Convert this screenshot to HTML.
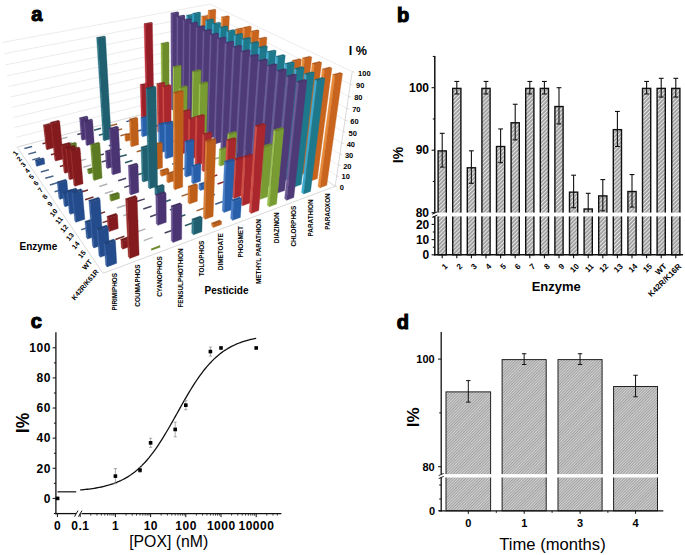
<!DOCTYPE html>
<html><head><meta charset="utf-8"><style>
html,body{margin:0;padding:0;background:#fff;}
body{width:685px;height:555px;overflow:hidden;position:relative;}
svg{position:absolute;left:0;top:0;font-family:"Liberation Sans",sans-serif;}
</style></head><body>
<svg width="685" height="555" viewBox="0 0 685 555">
<polygon points="17.12,147.04 207.27,97.33 209.88,4.17 2.43,42.45" fill="#fff"/>
<polygon points="207.27,97.33 335.19,186.27 352.26,71.52 209.88,4.17" fill="#fff"/>
<polyline points="15.77,137.39 207.51,88.64 336.75,175.8" fill="none" stroke="#e4e4e4" stroke-width="0.7"/>
<polyline points="14.39,127.57 207.76,79.81 338.34,165.12" fill="none" stroke="#e4e4e4" stroke-width="0.7"/>
<polyline points="12.99,117.59 208.01,70.86 339.96,154.23" fill="none" stroke="#e4e4e4" stroke-width="0.7"/>
<polyline points="11.56,107.42 208.27,61.77 341.61,143.12" fill="none" stroke="#e4e4e4" stroke-width="0.7"/>
<polyline points="10.1,97.08 208.53,52.53 343.3,131.79" fill="none" stroke="#e4e4e4" stroke-width="0.7"/>
<polyline points="8.62,86.55 208.79,43.16 345.02,120.23" fill="none" stroke="#e4e4e4" stroke-width="0.7"/>
<polyline points="7.12,75.82 209.06,33.64 346.77,108.43" fill="none" stroke="#e4e4e4" stroke-width="0.7"/>
<polyline points="5.58,64.9 209.33,23.97 348.57,96.38" fill="none" stroke="#e4e4e4" stroke-width="0.7"/>
<polyline points="4.02,53.78 209.6,14.15 350.4,84.08" fill="none" stroke="#e4e4e4" stroke-width="0.7"/>
<polyline points="2.43,42.45 209.88,4.17 352.26,71.52" fill="none" stroke="#e4e4e4" stroke-width="0.7"/>
<polygon points="17.12,147.04 207.27,97.33 335.19,186.27 103.01,273.32" fill="#fff" stroke="#cfcfcf" stroke-width="0.8"/>
<line x1="335.19" y1="186.27" x2="352.26" y2="71.52" stroke="#cfcfcf" stroke-width="0.8"/>
<polygon points="199.71,101.49 200.98,102.41 202.92,17.1 201.55,16.4" fill="#e88a3a" stroke="#e88a3a" stroke-width="0.35"/>
<polygon points="200.98,102.41 206.82,100.86 209.18,15.89 202.92,17.1" fill="#c8641e" stroke="#c8641e" stroke-width="0.35"/>
<polygon points="201.55,16.4 207.8,15.19 209.18,15.89 202.92,17.1" fill="#b0581a" stroke="#b0581a" stroke-width="0.35"/>
<polygon points="185.59,105.21 186.83,106.15 187.79,15.97 186.45,15.26" fill="#3caad2" stroke="#3caad2" stroke-width="0.35"/>
<polygon points="186.83,106.15 192.81,104.56 194.23,14.74 187.79,15.97" fill="#1e788c" stroke="#1e788c" stroke-width="0.35"/>
<polygon points="186.45,15.26 192.87,14.04 194.23,14.74 187.79,15.97" fill="#1a6a7b" stroke="#1a6a7b" stroke-width="0.35"/>
<polygon points="205.55,105.69 206.85,106.62 209.52,11.11 208.1,10.41" fill="#e88a3a" stroke="#e88a3a" stroke-width="0.35"/>
<polygon points="206.85,106.62 212.75,105.04 215.89,9.9 209.52,11.11" fill="#c8641e" stroke="#c8641e" stroke-width="0.35"/>
<polygon points="208.1,10.41 214.45,9.21 215.89,9.9 209.52,11.11" fill="#b0581a" stroke="#b0581a" stroke-width="0.35"/>
<polygon points="171.13,109.02 172.34,109.97 172.17,13.76 170.85,13.05" fill="#6e5a96" stroke="#6e5a96" stroke-width="0.35"/>
<polygon points="172.34,109.97 178.47,108.35 178.8,12.52 172.17,13.76" fill="#4f3a78" stroke="#4f3a78" stroke-width="0.35"/>
<polygon points="170.85,13.05 177.47,11.82 178.8,12.52 172.17,13.76" fill="#46336a" stroke="#46336a" stroke-width="0.35"/>
<polygon points="191.29,109.5 192.57,110.47 194.08,14.05 192.69,13.33" fill="#3caad2" stroke="#3caad2" stroke-width="0.35"/>
<polygon points="192.57,110.47 198.61,108.84 200.61,12.8 194.08,14.05" fill="#1e788c" stroke="#1e788c" stroke-width="0.35"/>
<polygon points="192.69,13.33 199.21,12.1 200.61,12.8 194.08,14.05" fill="#1a6a7b" stroke="#1a6a7b" stroke-width="0.35"/>
<polygon points="211.55,110 212.89,110.96 215.42,34.93 213.98,34.16" fill="#e88a3a" stroke="#e88a3a" stroke-width="0.35"/>
<polygon points="212.89,110.96 218.85,109.33 221.75,33.6 215.42,34.93" fill="#c8641e" stroke="#c8641e" stroke-width="0.35"/>
<polygon points="213.98,34.16 220.3,32.83 221.75,33.6 215.42,34.93" fill="#b0581a" stroke="#b0581a" stroke-width="0.35"/>
<line x1="157.08" y1="113.54" x2="163.35" y2="111.88" stroke="#a0a890" stroke-width="1.5"/>
<polygon points="176.7,113.41 177.95,114.4 178.24,17.06 176.89,16.33" fill="#6e5a96" stroke="#6e5a96" stroke-width="0.35"/>
<polygon points="177.95,114.4 184.13,112.74 184.94,15.79 178.24,17.06" fill="#4f3a78" stroke="#4f3a78" stroke-width="0.35"/>
<polygon points="176.89,16.33 183.57,15.06 184.94,15.79 178.24,17.06" fill="#46336a" stroke="#46336a" stroke-width="0.35"/>
<polygon points="197.16,113.92 198.48,114.91 200.29,27.85 198.87,27.09" fill="#3caad2" stroke="#3caad2" stroke-width="0.35"/>
<polygon points="198.48,114.91 204.57,113.24 206.84,26.53 200.29,27.85" fill="#1e788c" stroke="#1e788c" stroke-width="0.35"/>
<polygon points="198.87,27.09 205.4,25.77 206.84,26.53 200.29,27.85" fill="#1a6a7b" stroke="#1a6a7b" stroke-width="0.35"/>
<polygon points="217.73,114.43 219.11,115.42 222.9,17.66 221.39,16.92" fill="#e88a3a" stroke="#e88a3a" stroke-width="0.35"/>
<polygon points="219.11,115.42 225.12,113.74 229.39,16.38 222.9,17.66" fill="#c8641e" stroke="#c8641e" stroke-width="0.35"/>
<polygon points="221.39,16.92 227.87,15.65 229.39,16.38 222.9,17.66" fill="#b0581a" stroke="#b0581a" stroke-width="0.35"/>
<polygon points="141.18,116.9 142.32,117.91 141.41,85.39 140.24,84.46" fill="#cf333d" stroke="#cf333d" stroke-width="0.35"/>
<polygon points="142.32,117.91 148.74,116.21 148.02,83.81 141.41,85.39" fill="#9a2028" stroke="#9a2028" stroke-width="0.35"/>
<polygon points="140.24,84.46 146.83,82.89 148.02,83.81 141.41,85.39" fill="#881c23" stroke="#881c23" stroke-width="0.35"/>
<polygon points="161.75,117.42 162.97,118.43 162.22,44.22 160.93,43.4" fill="#94bd40" stroke="#94bd40" stroke-width="0.35"/>
<polygon points="162.97,118.43 169.3,116.72 168.97,42.8 162.22,44.22" fill="#6c8c2a" stroke="#6c8c2a" stroke-width="0.35"/>
<polygon points="160.93,43.4 167.66,41.99 168.97,42.8 162.22,44.22" fill="#5f7b25" stroke="#5f7b25" stroke-width="0.35"/>
<polygon points="182.43,117.94 183.71,118.95 184.51,20.47 183.11,19.71" fill="#6e5a96" stroke="#6e5a96" stroke-width="0.35"/>
<polygon points="183.71,118.95 189.96,117.24 191.28,19.15 184.51,20.47" fill="#4f3a78" stroke="#4f3a78" stroke-width="0.35"/>
<polygon points="183.11,19.71 189.87,18.4 191.28,19.15 184.51,20.47" fill="#46336a" stroke="#46336a" stroke-width="0.35"/>
<polygon points="203.21,118.47 204.56,119.48 207.15,20.78 205.67,20.02" fill="#3caad2" stroke="#3caad2" stroke-width="0.35"/>
<polygon points="204.56,119.48 210.71,117.77 213.81,19.46 207.15,20.78" fill="#1e788c" stroke="#1e788c" stroke-width="0.35"/>
<polygon points="205.67,20.02 212.32,18.71 213.81,19.46 207.15,20.78" fill="#1a6a7b" stroke="#1a6a7b" stroke-width="0.35"/>
<polygon points="224.08,118.99 225.51,120.01 228.97,42.22 227.44,41.4" fill="#e88a3a" stroke="#e88a3a" stroke-width="0.35"/>
<polygon points="225.51,120.01 231.57,118.29 235.42,40.8 228.97,42.22" fill="#c8641e" stroke="#c8641e" stroke-width="0.35"/>
<polygon points="227.44,41.4 233.88,39.99 235.42,40.8 228.97,42.22" fill="#b0581a" stroke="#b0581a" stroke-width="0.35"/>
<line x1="126.35" y1="121.64" x2="132.93" y2="119.91" stroke="#3a5a8a" stroke-width="1.5"/>
<polygon points="146.44,121.52 147.62,122.56 145.32,24.41 144.04,23.63" fill="#c72e3b" stroke="#c72e3b" stroke-width="0.35"/>
<polygon points="147.62,122.56 154.11,120.81 152.37,23.06 145.32,24.41" fill="#941c26" stroke="#941c26" stroke-width="0.35"/>
<polygon points="144.04,23.63 151.08,22.29 152.37,23.06 145.32,24.41" fill="#821921" stroke="#821921" stroke-width="0.35"/>
<line x1="168.13" y1="122.72" x2="174.52" y2="120.97" stroke="#a0a890" stroke-width="1.5"/>
<polygon points="188.33,122.6 189.65,123.64 190.97,23.98 189.53,23.2" fill="#6e5a96" stroke="#6e5a96" stroke-width="0.35"/>
<polygon points="189.65,123.64 195.96,121.88 197.82,22.63 190.97,23.98" fill="#4f3a78" stroke="#4f3a78" stroke-width="0.35"/>
<polygon points="189.53,23.2 196.36,21.85 197.82,22.63 190.97,23.98" fill="#46336a" stroke="#46336a" stroke-width="0.35"/>
<polygon points="209.43,123.14 210.82,124.19 214,24.31 212.47,23.52" fill="#3caad2" stroke="#3caad2" stroke-width="0.35"/>
<polygon points="210.82,124.19 217.03,122.42 220.73,22.95 214,24.31" fill="#1e788c" stroke="#1e788c" stroke-width="0.35"/>
<polygon points="212.47,23.52 219.19,22.17 220.73,22.95 214,24.31" fill="#1a6a7b" stroke="#1a6a7b" stroke-width="0.35"/>
<polygon points="230.63,123.69 232.09,124.74 236.87,30.06 235.27,29.25" fill="#e88a3a" stroke="#e88a3a" stroke-width="0.35"/>
<polygon points="232.09,124.74 238.21,122.97 243.47,28.67 236.87,30.06" fill="#c8641e" stroke="#c8641e" stroke-width="0.35"/>
<polygon points="235.27,29.25 241.85,27.87 243.47,28.67 236.87,30.06" fill="#b0581a" stroke="#b0581a" stroke-width="0.35"/>
<line x1="110.42" y1="125.85" x2="117.16" y2="124.07" stroke="#a06030" stroke-width="1.5"/>
<line x1="131.47" y1="126.4" x2="138.12" y2="124.62" stroke="#3a5a8a" stroke-width="1.5"/>
<line x1="152.63" y1="126.96" x2="159.19" y2="125.17" stroke="#8a2a2a" stroke-width="1.5"/>
<polygon points="173.08,126.84 174.37,127.91 174.36,67.54 173.01,66.62" fill="#9cc050" stroke="#9cc050" stroke-width="0.35"/>
<polygon points="174.37,127.91 180.83,126.11 181.17,65.97 174.36,67.54" fill="#789b32" stroke="#789b32" stroke-width="0.35"/>
<polygon points="173.01,66.62 179.8,65.06 181.17,65.97 174.36,67.54" fill="#6a882c" stroke="#6a882c" stroke-width="0.35"/>
<polygon points="194.4,127.4 195.76,128.48 197.65,27.61 196.16,26.8" fill="#6e5a96" stroke="#6e5a96" stroke-width="0.35"/>
<polygon points="195.76,128.48 202.13,126.66 204.57,26.21 197.65,27.61" fill="#4f3a78" stroke="#4f3a78" stroke-width="0.35"/>
<polygon points="196.16,26.8 203.07,25.41 204.57,26.21 197.65,27.61" fill="#46336a" stroke="#46336a" stroke-width="0.35"/>
<polygon points="215.83,127.96 217.27,129.04 221.07,27.95 219.5,27.14" fill="#3caad2" stroke="#3caad2" stroke-width="0.35"/>
<polygon points="217.27,129.04 223.54,127.22 227.88,26.55 221.07,27.95" fill="#1e788c" stroke="#1e788c" stroke-width="0.35"/>
<polygon points="219.5,27.14 226.28,25.75 227.88,26.55 221.07,27.95" fill="#1a6a7b" stroke="#1a6a7b" stroke-width="0.35"/>
<line x1="94.09" y1="130.16" x2="101" y2="128.33" stroke="#2e5a66" stroke-width="1.5"/>
<polygon points="237.37,128.53 238.88,129.61 244.62,28.3 242.95,27.48" fill="#e88a3a" stroke="#e88a3a" stroke-width="0.35"/>
<polygon points="238.88,129.61 245.05,127.79 251.31,26.89 244.62,28.3" fill="#c8641e" stroke="#c8641e" stroke-width="0.35"/>
<polygon points="242.95,27.48 249.63,26.08 251.31,26.89 244.62,28.3" fill="#b0581a" stroke="#b0581a" stroke-width="0.35"/>
<line x1="115.36" y1="130.73" x2="122.18" y2="128.9" stroke="#a06030" stroke-width="1.5"/>
<line x1="136.75" y1="131.31" x2="143.47" y2="129.47" stroke="#3a5a8a" stroke-width="1.5"/>
<polygon points="157.45,131.19 158.7,132.28 158.04,84.66 156.74,83.68" fill="#d25046" stroke="#d25046" stroke-width="0.35"/>
<polygon points="158.7,132.28 165.33,130.43 164.95,82.99 158.04,84.66" fill="#aa282d" stroke="#aa282d" stroke-width="0.35"/>
<polygon points="156.74,83.68 163.63,82.02 164.95,82.99 158.04,84.66" fill="#962328" stroke="#962328" stroke-width="0.35"/>
<polygon points="179,131.76 180.33,132.87 180.56,88.18 179.18,87.19" fill="#9cc050" stroke="#9cc050" stroke-width="0.35"/>
<polygon points="180.33,132.87 186.86,131.01 187.34,86.49 180.56,88.18" fill="#789b32" stroke="#789b32" stroke-width="0.35"/>
<polygon points="179.18,87.19 185.95,85.51 187.34,86.49 180.56,88.18" fill="#6a882c" stroke="#6a882c" stroke-width="0.35"/>
<polygon points="200.66,132.35 202.07,133.45 204.55,31.36 203.01,30.53" fill="#6e5a96" stroke="#6e5a96" stroke-width="0.35"/>
<polygon points="202.07,133.45 208.5,131.59 211.55,29.92 204.55,31.36" fill="#4f3a78" stroke="#4f3a78" stroke-width="0.35"/>
<polygon points="203.01,30.53 209.99,29.09 211.55,29.92 204.55,31.36" fill="#46336a" stroke="#46336a" stroke-width="0.35"/>
<line x1="77.34" y1="134.58" x2="84.42" y2="132.71" stroke="#4a4060" stroke-width="1.5"/>
<polygon points="222.44,132.93 223.92,134.04 228.38,31.72 226.75,30.88" fill="#3caad2" stroke="#3caad2" stroke-width="0.35"/>
<polygon points="223.92,134.04 230.25,132.17 235.26,30.27 228.38,31.72" fill="#1e788c" stroke="#1e788c" stroke-width="0.35"/>
<polygon points="226.75,30.88 233.61,29.44 235.26,30.27 228.38,31.72" fill="#1a6a7b" stroke="#1a6a7b" stroke-width="0.35"/>
<line x1="98.84" y1="135.17" x2="105.83" y2="133.29" stroke="#2e5a66" stroke-width="1.5"/>
<polygon points="244.32,133.52 245.88,134.64 252.34,32.08 250.62,31.24" fill="#e88a3a" stroke="#e88a3a" stroke-width="0.35"/>
<polygon points="245.88,134.64 252.11,132.75 259.1,30.63 252.34,32.08" fill="#c8641e" stroke="#c8641e" stroke-width="0.35"/>
<polygon points="250.62,31.24 257.36,29.8 259.1,30.63 252.34,32.08" fill="#b0581a" stroke="#b0581a" stroke-width="0.35"/>
<line x1="120.46" y1="135.76" x2="127.35" y2="133.88" stroke="#a06030" stroke-width="1.5"/>
<polygon points="141.42,135.64 142.63,136.77 142.12,118.6 140.89,117.52" fill="#4a80c8" stroke="#4a80c8" stroke-width="0.35"/>
<polygon points="142.63,136.77 149.43,134.87 149.03,116.77 142.12,118.6" fill="#285faa" stroke="#285faa" stroke-width="0.35"/>
<polygon points="140.89,117.52 147.78,115.7 149.03,116.77 142.12,118.6" fill="#235496" stroke="#235496" stroke-width="0.35"/>
<polygon points="163.2,136.24 164.49,137.37 164.05,87.15 162.7,86.14" fill="#d25046" stroke="#d25046" stroke-width="0.35"/>
<polygon points="164.49,137.37 171.19,135.47 171.05,85.44 164.05,87.15" fill="#aa282d" stroke="#aa282d" stroke-width="0.35"/>
<polygon points="162.7,86.14 169.69,84.44 171.05,85.44 164.05,87.15" fill="#962328" stroke="#962328" stroke-width="0.35"/>
<line x1="185.97" y1="137.56" x2="192.57" y2="135.65" stroke="#a0a890" stroke-width="1.5"/>
<line x1="60.16" y1="139.11" x2="67.43" y2="137.19" stroke="#b4b4b8" stroke-width="1.5"/>
<polygon points="207.12,137.44 208.56,138.59 211.69,35.24 210.1,34.37" fill="#6e5a96" stroke="#6e5a96" stroke-width="0.35"/>
<polygon points="208.56,138.59 215.06,136.66 218.76,33.75 211.69,35.24" fill="#4f3a78" stroke="#4f3a78" stroke-width="0.35"/>
<polygon points="210.1,34.37 217.15,32.9 218.76,33.75 211.69,35.24" fill="#46336a" stroke="#46336a" stroke-width="0.35"/>
<polygon points="81.25,138.99 82.27,140.14 80.53,118.95 79.5,117.85" fill="#6a5590" stroke="#6a5590" stroke-width="0.35"/>
<polygon points="82.27,140.14 89.45,138.21 87.86,117.1 80.53,118.95" fill="#4a3572" stroke="#4a3572" stroke-width="0.35"/>
<polygon points="79.5,117.85 86.8,116.01 87.86,117.1 80.53,118.95" fill="#412f64" stroke="#412f64" stroke-width="0.35"/>
<polygon points="229.24,138.05 230.77,139.2 235.94,35.61 234.26,34.75" fill="#3caad2" stroke="#3caad2" stroke-width="0.35"/>
<polygon points="230.77,139.2 237.16,137.27 242.89,34.12 235.94,35.61" fill="#1e788c" stroke="#1e788c" stroke-width="0.35"/>
<polygon points="234.26,34.75 241.19,33.26 242.89,34.12 235.94,35.61" fill="#1a6a7b" stroke="#1a6a7b" stroke-width="0.35"/>
<polygon points="103.05,139.6 104.15,140.75 97.76,38.44 96.59,37.56" fill="#2f7a8c" stroke="#2f7a8c" stroke-width="0.35"/>
<polygon points="104.15,140.75 111.23,138.81 105.51,36.93 97.76,38.44" fill="#1f5f70" stroke="#1f5f70" stroke-width="0.35"/>
<polygon points="96.59,37.56 104.32,36.06 105.51,36.93 97.76,38.44" fill="#1b5463" stroke="#1b5463" stroke-width="0.35"/>
<polygon points="251.48,138.66 253.09,139.81 260.09,39.39 258.32,38.5" fill="#e88a3a" stroke="#e88a3a" stroke-width="0.35"/>
<polygon points="253.09,139.81 259.38,137.87 266.9,37.87 260.09,39.39" fill="#c8641e" stroke="#c8641e" stroke-width="0.35"/>
<polygon points="258.32,38.5 265.11,37 266.9,37.87 260.09,39.39" fill="#b0581a" stroke="#b0581a" stroke-width="0.35"/>
<polygon points="124.97,140.21 126.14,141.37 125.9,135.65 124.72,134.5" fill="#d8803a" stroke="#d8803a" stroke-width="0.35"/>
<polygon points="126.14,141.37 133.12,139.43 132.91,133.72 125.9,135.65" fill="#be5f19" stroke="#be5f19" stroke-width="0.35"/>
<polygon points="124.72,134.5 131.71,132.59 132.91,133.72 125.9,135.65" fill="#a75416" stroke="#a75416" stroke-width="0.35"/>
<line x1="147.79" y1="141.57" x2="154.66" y2="139.62" stroke="#3a5a8a" stroke-width="1.5"/>
<line x1="169.99" y1="142.19" x2="176.75" y2="140.23" stroke="#8a2a2a" stroke-width="1.5"/>
<line x1="42.53" y1="143.76" x2="49.99" y2="141.79" stroke="#6e2a28" stroke-width="1.5"/>
<polygon points="191.4,142.07 192.81,143.25 193.97,72.16 192.47,71.17" fill="#9cc050" stroke="#9cc050" stroke-width="0.35"/>
<polygon points="192.81,143.25 199.48,141.28 201.05,70.47 193.97,72.16" fill="#789b32" stroke="#789b32" stroke-width="0.35"/>
<polygon points="192.47,71.17 199.53,69.5 201.05,70.47 193.97,72.16" fill="#6a882c" stroke="#6a882c" stroke-width="0.35"/>
<line x1="64.51" y1="144.39" x2="71.87" y2="142.41" stroke="#b4b4b8" stroke-width="1.5"/>
<polygon points="213.77,142.7 215.26,143.88 219.07,39.25 217.42,38.35" fill="#6e5a96" stroke="#6e5a96" stroke-width="0.35"/>
<polygon points="215.26,143.88 221.83,141.9 226.21,37.71 219.07,39.25" fill="#4f3a78" stroke="#4f3a78" stroke-width="0.35"/>
<polygon points="217.42,38.35 224.55,36.83 226.21,37.71 219.07,39.25" fill="#46336a" stroke="#46336a" stroke-width="0.35"/>
<polygon points="85.93,144.27 86.98,145.46 85.16,122.04 84.09,120.91" fill="#6a5590" stroke="#6a5590" stroke-width="0.35"/>
<polygon points="86.98,145.46 94.25,143.47 92.58,120.14 85.16,122.04" fill="#4a3572" stroke="#4a3572" stroke-width="0.35"/>
<polygon points="84.09,120.91 91.5,119.02 92.58,120.14 85.16,122.04" fill="#412f64" stroke="#412f64" stroke-width="0.35"/>
<polygon points="236.26,143.33 237.84,144.52 243.76,39.64 242.02,38.75" fill="#3caad2" stroke="#3caad2" stroke-width="0.35"/>
<polygon points="237.84,144.52 244.29,142.53 250.78,38.1 243.76,39.64" fill="#1e788c" stroke="#1e788c" stroke-width="0.35"/>
<polygon points="242.02,38.75 249.02,37.21 250.78,38.1 243.76,39.64" fill="#1a6a7b" stroke="#1a6a7b" stroke-width="0.35"/>
<line x1="108.81" y1="145.66" x2="115.96" y2="143.67" stroke="#2e5a66" stroke-width="1.5"/>
<polygon points="258.87,143.96 260.53,145.15 266.86,62.61 265.06,61.64" fill="#e88a3a" stroke="#e88a3a" stroke-width="0.35"/>
<polygon points="260.53,145.15 266.87,143.16 273.63,60.95 266.86,62.61" fill="#c8641e" stroke="#c8641e" stroke-width="0.35"/>
<polygon points="265.06,61.64 271.82,60 273.63,60.95 266.86,62.61" fill="#b0581a" stroke="#b0581a" stroke-width="0.35"/>
<polygon points="130.37,145.54 131.58,146.74 130.56,120.21 129.32,119.08" fill="#d8803a" stroke="#d8803a" stroke-width="0.35"/>
<polygon points="131.58,146.74 138.63,144.73 137.79,118.31 130.56,120.21" fill="#be5f19" stroke="#be5f19" stroke-width="0.35"/>
<polygon points="129.32,119.08 136.53,117.19 137.79,118.31 130.56,120.21" fill="#a75416" stroke="#a75416" stroke-width="0.35"/>
<line x1="153.58" y1="146.95" x2="160.52" y2="144.94" stroke="#3a5a8a" stroke-width="1.5"/>
<line x1="24.44" y1="148.53" x2="32.09" y2="146.51" stroke="#4a6488" stroke-width="1.5"/>
<line x1="176.14" y1="147.59" x2="182.98" y2="145.57" stroke="#8a2a2a" stroke-width="1.5"/>
<polygon points="46.07,148.42 46.99,149.63 44.3,126.04 43.37,124.89" fill="#a03430" stroke="#a03430" stroke-width="0.35"/>
<polygon points="46.99,149.63 54.56,147.59 52.04,124.1 44.3,126.04" fill="#821a1e" stroke="#821a1e" stroke-width="0.35"/>
<polygon points="43.37,124.89 51.09,122.96 52.04,124.1 44.3,126.04" fill="#72171a" stroke="#72171a" stroke-width="0.35"/>
<polygon points="197.89,147.48 199.35,148.69 200.78,84.35 199.24,83.3" fill="#9cc050" stroke="#9cc050" stroke-width="0.35"/>
<polygon points="199.35,148.69 206.08,146.65 207.89,82.57 200.78,84.35" fill="#789b32" stroke="#789b32" stroke-width="0.35"/>
<polygon points="199.24,83.3 206.33,81.54 207.89,82.57 200.78,84.35" fill="#6a882c" stroke="#6a882c" stroke-width="0.35"/>
<polygon points="68.36,149.07 69.36,150.28 68.91,145.44 67.9,144.24" fill="#7a9a3a" stroke="#7a9a3a" stroke-width="0.35"/>
<polygon points="69.36,150.28 76.82,148.24 76.4,143.42 68.91,145.44" fill="#5c7a22" stroke="#5c7a22" stroke-width="0.35"/>
<polygon points="67.9,144.24 75.37,142.23 76.4,143.42 68.91,145.44" fill="#516b1e" stroke="#516b1e" stroke-width="0.35"/>
<polygon points="220.64,148.13 222.18,149.34 226.7,43.4 225,42.47" fill="#6e5a96" stroke="#6e5a96" stroke-width="0.35"/>
<polygon points="222.18,149.34 228.81,147.3 233.93,41.81 226.7,43.4" fill="#4f3a78" stroke="#4f3a78" stroke-width="0.35"/>
<polygon points="225,42.47 232.21,40.89 233.93,41.81 226.7,43.4" fill="#46336a" stroke="#46336a" stroke-width="0.35"/>
<line x1="91.46" y1="150.5" x2="98.8" y2="148.45" stroke="#4a4060" stroke-width="1.5"/>
<polygon points="243.51,148.78 245.13,150 251.85,43.81 250.05,42.88" fill="#3caad2" stroke="#3caad2" stroke-width="0.35"/>
<polygon points="245.13,150 251.65,147.95 258.94,42.21 251.85,43.81" fill="#1e788c" stroke="#1e788c" stroke-width="0.35"/>
<polygon points="250.05,42.88 257.12,41.3 258.94,42.21 251.85,43.81" fill="#1a6a7b" stroke="#1a6a7b" stroke-width="0.35"/>
<line x1="114.03" y1="151.16" x2="121.27" y2="149.11" stroke="#2e5a66" stroke-width="1.5"/>
<polygon points="266.5,149.44 268.21,150.67 275.32,65.99 273.45,64.99" fill="#e88a3a" stroke="#e88a3a" stroke-width="0.35"/>
<polygon points="268.21,150.67 274.61,148.61 282.16,64.28 275.32,65.99" fill="#c8641e" stroke="#c8641e" stroke-width="0.35"/>
<polygon points="273.45,64.99 280.28,63.29 282.16,64.28 275.32,65.99" fill="#b0581a" stroke="#b0581a" stroke-width="0.35"/>
<line x1="136.73" y1="151.83" x2="143.86" y2="149.76" stroke="#a06030" stroke-width="1.5"/>
<polygon points="158.7,151.71 160.03,152.95 159.67,125.04 158.31,123.87" fill="#4a80c8" stroke="#4a80c8" stroke-width="0.35"/>
<polygon points="160.03,152.95 167.06,150.87 166.88,123.07 159.67,125.04" fill="#285faa" stroke="#285faa" stroke-width="0.35"/>
<polygon points="158.31,123.87 165.49,121.91 166.88,123.07 159.67,125.04" fill="#235496" stroke="#235496" stroke-width="0.35"/>
<line x1="28.33" y1="154.11" x2="36.09" y2="152.03" stroke="#4a6488" stroke-width="1.5"/>
<polygon points="181.59,152.38 183,153.62 183.32,112.19 181.85,111.05" fill="#d25046" stroke="#d25046" stroke-width="0.35"/>
<polygon points="183,153.62 189.92,151.53 190.49,110.26 183.32,112.19" fill="#aa282d" stroke="#aa282d" stroke-width="0.35"/>
<polygon points="181.85,111.05 189.01,109.14 190.49,110.26 183.32,112.19" fill="#962328" stroke="#962328" stroke-width="0.35"/>
<line x1="50.92" y1="154.79" x2="58.57" y2="152.69" stroke="#6e2a28" stroke-width="1.5"/>
<line x1="205.55" y1="153.85" x2="212.35" y2="151.75" stroke="#a0a890" stroke-width="1.5"/>
<line x1="73.63" y1="155.47" x2="81.18" y2="153.36" stroke="#b4b4b8" stroke-width="1.5"/>
<polygon points="227.73,153.73 229.32,154.98 234.61,47.7 232.85,46.74" fill="#6e5a96" stroke="#6e5a96" stroke-width="0.35"/>
<polygon points="229.32,154.98 236.01,152.88 241.92,46.05 234.61,47.7" fill="#4f3a78" stroke="#4f3a78" stroke-width="0.35"/>
<polygon points="232.85,46.74 240.13,45.11 241.92,46.05 234.61,47.7" fill="#46336a" stroke="#46336a" stroke-width="0.35"/>
<line x1="96.47" y1="156.15" x2="103.9" y2="154.04" stroke="#4a4060" stroke-width="1.5"/>
<polygon points="250.99,154.41 252.67,155.67 260.23,48.13 258.37,47.17" fill="#3caad2" stroke="#3caad2" stroke-width="0.35"/>
<polygon points="252.67,155.67 259.24,153.55 267.4,46.48 260.23,48.13" fill="#1e788c" stroke="#1e788c" stroke-width="0.35"/>
<polygon points="258.37,47.17 265.51,45.53 267.4,46.48 260.23,48.13" fill="#1a6a7b" stroke="#1a6a7b" stroke-width="0.35"/>
<line x1="119.42" y1="156.84" x2="126.75" y2="154.72" stroke="#2e5a66" stroke-width="1.5"/>
<polygon points="274.37,155.09 276.14,156.36 283.88,71.77 281.95,70.73" fill="#e88a3a" stroke="#e88a3a" stroke-width="0.35"/>
<polygon points="276.14,156.36 282.6,154.23 290.79,70 283.88,71.77" fill="#c8641e" stroke="#c8641e" stroke-width="0.35"/>
<polygon points="281.95,70.73 288.84,68.97 290.79,70 283.88,71.77" fill="#b0581a" stroke="#b0581a" stroke-width="0.35"/>
<line x1="142.51" y1="157.53" x2="149.72" y2="155.4" stroke="#a06030" stroke-width="1.5"/>
<polygon points="164.84,157.41 166.21,158.69 165.96,124.23 164.54,123.03" fill="#4a80c8" stroke="#4a80c8" stroke-width="0.35"/>
<polygon points="166.21,158.69 173.32,156.55 173.29,122.22 165.96,124.23" fill="#285faa" stroke="#285faa" stroke-width="0.35"/>
<polygon points="164.54,123.03 171.85,121.04 173.29,122.22 165.96,124.23" fill="#235496" stroke="#235496" stroke-width="0.35"/>
<line x1="32.35" y1="159.87" x2="40.21" y2="157.72" stroke="#4a6488" stroke-width="1.5"/>
<polygon points="188.12,158.11 189.58,159.4 190.12,119.59 188.6,118.41" fill="#d25046" stroke="#d25046" stroke-width="0.35"/>
<polygon points="189.58,159.4 196.57,157.24 197.36,117.59 190.12,119.59" fill="#aa282d" stroke="#aa282d" stroke-width="0.35"/>
<polygon points="188.6,118.41 195.83,116.42 197.36,117.59 190.12,119.59" fill="#962328" stroke="#962328" stroke-width="0.35"/>
<polygon points="54.7,159.75 55.68,161.04 51.64,123.4 50.64,122.21" fill="#a03430" stroke="#a03430" stroke-width="0.35"/>
<polygon points="55.68,161.04 63.44,158.88 59.68,121.38 51.64,123.4" fill="#821a1e" stroke="#821a1e" stroke-width="0.35"/>
<polygon points="50.64,122.21 58.66,120.2 59.68,121.38 51.64,123.4" fill="#72171a" stroke="#72171a" stroke-width="0.35"/>
<line x1="212.51" y1="159.63" x2="219.38" y2="157.47" stroke="#a0a890" stroke-width="1.5"/>
<line x1="78.42" y1="161.28" x2="86.06" y2="159.11" stroke="#b4b4b8" stroke-width="1.5"/>
<polygon points="235.05,159.51 236.7,160.81 242.81,52.15 240.98,51.16" fill="#6e5a96" stroke="#6e5a96" stroke-width="0.35"/>
<polygon points="236.7,160.81 243.46,158.63 250.19,50.45 242.81,52.15" fill="#4f3a78" stroke="#4f3a78" stroke-width="0.35"/>
<polygon points="240.98,51.16 248.35,49.47 250.19,50.45 242.81,52.15" fill="#46336a" stroke="#46336a" stroke-width="0.35"/>
<line x1="101.64" y1="161.99" x2="109.17" y2="159.81" stroke="#4a4060" stroke-width="1.5"/>
<polygon points="258.71,160.22 260.45,161.52 268.92,52.61 266.98,51.61" fill="#3caad2" stroke="#3caad2" stroke-width="0.35"/>
<polygon points="260.45,161.52 267.09,159.34 276.16,50.9 268.92,52.61" fill="#1e788c" stroke="#1e788c" stroke-width="0.35"/>
<polygon points="266.98,51.61 274.21,49.91 276.16,50.9 268.92,52.61" fill="#1a6a7b" stroke="#1a6a7b" stroke-width="0.35"/>
<line x1="124.99" y1="162.71" x2="132.41" y2="160.52" stroke="#2e5a66" stroke-width="1.5"/>
<polygon points="282.51,160.93 284.33,162.24 294.36,61.41 292.33,60.38" fill="#e88a3a" stroke="#e88a3a" stroke-width="0.35"/>
<polygon points="284.33,162.24 290.85,160.04 301.41,59.64 294.36,61.41" fill="#c8641e" stroke="#c8641e" stroke-width="0.35"/>
<polygon points="292.33,60.38 299.37,58.63 301.41,59.64 294.36,61.41" fill="#b0581a" stroke="#b0581a" stroke-width="0.35"/>
<line x1="148.47" y1="163.43" x2="155.77" y2="161.22" stroke="#a06030" stroke-width="1.5"/>
<line x1="172.08" y1="164.15" x2="179.26" y2="161.94" stroke="#3a5a8a" stroke-width="1.5"/>
<polygon points="35.92,164.97 36.84,166.3 36.22,161.31 35.29,160" fill="#3a64a4" stroke="#3a64a4" stroke-width="0.35"/>
<polygon points="36.84,166.3 44.82,164.07 44.23,159.11 36.22,161.31" fill="#244c8c" stroke="#244c8c" stroke-width="0.35"/>
<polygon points="35.29,160 43.28,157.81 44.23,159.11 36.22,161.31" fill="#20437b" stroke="#20437b" stroke-width="0.35"/>
<polygon points="194.86,164.03 196.37,165.36 197.33,117.54 195.74,116.34" fill="#d25046" stroke="#d25046" stroke-width="0.35"/>
<polygon points="196.37,165.36 203.44,163.13 204.7,115.51 197.33,117.54" fill="#aa282d" stroke="#aa282d" stroke-width="0.35"/>
<polygon points="195.74,116.34 203.09,114.32 204.7,115.51 197.33,117.54" fill="#962328" stroke="#962328" stroke-width="0.35"/>
<line x1="59.87" y1="166.55" x2="67.72" y2="164.32" stroke="#6e2a28" stroke-width="1.5"/>
<polygon points="218.67,164.76 220.28,166.09 220.93,150.4 219.3,149.1" fill="#9cc050" stroke="#9cc050" stroke-width="0.35"/>
<polygon points="220.28,166.09 227.23,163.86 227.98,148.22 220.93,150.4" fill="#789b32" stroke="#789b32" stroke-width="0.35"/>
<polygon points="219.3,149.1 226.33,146.94 227.98,148.22 220.93,150.4" fill="#6a882c" stroke="#6a882c" stroke-width="0.35"/>
<line x1="83.37" y1="167.28" x2="91.1" y2="165.04" stroke="#b4b4b8" stroke-width="1.5"/>
<polygon points="242.62,165.49 244.32,166.83 251.31,56.77 249.41,55.74" fill="#6e5a96" stroke="#6e5a96" stroke-width="0.35"/>
<polygon points="244.32,166.83 251.15,164.58 258.77,55.01 251.31,56.77" fill="#4f3a78" stroke="#4f3a78" stroke-width="0.35"/>
<polygon points="249.41,55.74 256.86,53.99 258.77,55.01 251.31,56.77" fill="#46336a" stroke="#46336a" stroke-width="0.35"/>
<polygon points="106.23,167.17 107.43,168.52 106.44,152.3 105.23,150.99" fill="#6a5590" stroke="#6a5590" stroke-width="0.35"/>
<polygon points="107.43,168.52 115.06,166.26 114.19,150.1 106.44,152.3" fill="#4a3572" stroke="#4a3572" stroke-width="0.35"/>
<polygon points="105.23,150.99 112.95,148.81 114.19,150.1 106.44,152.3" fill="#412f64" stroke="#412f64" stroke-width="0.35"/>
<polygon points="266.7,166.23 268.49,167.57 277.93,57.25 275.92,56.21" fill="#3caad2" stroke="#3caad2" stroke-width="0.35"/>
<polygon points="268.49,167.57 275.2,165.32 285.24,55.48 277.93,57.25" fill="#1e788c" stroke="#1e788c" stroke-width="0.35"/>
<polygon points="275.92,56.21 283.22,54.45 285.24,55.48 277.93,57.25" fill="#1a6a7b" stroke="#1a6a7b" stroke-width="0.35"/>
<line x1="130.75" y1="168.77" x2="138.25" y2="166.51" stroke="#2e5a66" stroke-width="1.5"/>
<polygon points="290.91,166.97 292.8,168.32 304.59,58.95 302.46,57.9" fill="#e88a3a" stroke="#e88a3a" stroke-width="0.35"/>
<polygon points="292.8,168.32 299.38,166.05 311.74,57.16 304.59,58.95" fill="#c8641e" stroke="#c8641e" stroke-width="0.35"/>
<polygon points="302.46,57.9 309.6,56.13 311.74,57.16 304.59,58.95" fill="#b0581a" stroke="#b0581a" stroke-width="0.35"/>
<polygon points="153.77,168.65 155.15,170.01 154.71,145.4 153.3,144.1" fill="#d8803a" stroke="#d8803a" stroke-width="0.35"/>
<polygon points="155.15,170.01 162.54,167.73 162.27,143.21 154.71,145.4" fill="#be5f19" stroke="#be5f19" stroke-width="0.35"/>
<polygon points="153.3,144.1 160.84,141.93 162.27,143.21 154.71,145.4" fill="#a75416" stroke="#a75416" stroke-width="0.35"/>
<line x1="178.67" y1="170.27" x2="185.93" y2="167.99" stroke="#3a5a8a" stroke-width="1.5"/>
<line x1="40.8" y1="171.97" x2="48.87" y2="169.67" stroke="#4a6488" stroke-width="1.5"/>
<polygon points="201.83,170.15 203.4,171.53 204.36,135.09 202.74,133.81" fill="#d25046" stroke="#d25046" stroke-width="0.35"/>
<polygon points="203.4,171.53 210.55,169.23 211.74,132.94 204.36,135.09" fill="#aa282d" stroke="#aa282d" stroke-width="0.35"/>
<polygon points="202.74,133.81 210.1,131.67 211.74,132.94 204.36,135.09" fill="#962328" stroke="#962328" stroke-width="0.35"/>
<polygon points="63.91,171.85 64.96,173.23 62.22,145.91 61.15,144.59" fill="#a03430" stroke="#a03430" stroke-width="0.35"/>
<polygon points="64.96,173.23 72.92,170.92 70.4,143.7 62.22,145.91" fill="#821a1e" stroke="#821a1e" stroke-width="0.35"/>
<polygon points="61.15,144.59 69.31,142.41 70.4,143.7 62.22,145.91" fill="#72171a" stroke="#72171a" stroke-width="0.35"/>
<polygon points="226.07,170.91 227.73,172.29 229.56,134.7 227.84,133.41" fill="#9cc050" stroke="#9cc050" stroke-width="0.35"/>
<polygon points="227.73,172.29 234.76,169.98 236.81,132.54 229.56,134.7" fill="#789b32" stroke="#789b32" stroke-width="0.35"/>
<polygon points="227.84,133.41 235.07,131.27 236.81,132.54 229.56,134.7" fill="#6a882c" stroke="#6a882c" stroke-width="0.35"/>
<polygon points="87.75,172.61 88.9,174 88.62,170.46 87.47,169.08" fill="#7a9a3a" stroke="#7a9a3a" stroke-width="0.35"/>
<polygon points="88.9,174 96.74,171.68 96.49,168.15 88.62,170.46" fill="#5c7a22" stroke="#5c7a22" stroke-width="0.35"/>
<polygon points="87.47,169.08 95.33,166.79 96.49,168.15 88.62,170.46" fill="#516b1e" stroke="#516b1e" stroke-width="0.35"/>
<polygon points="250.45,171.67 252.2,173.06 260.13,61.56 258.16,60.49" fill="#6e5a96" stroke="#6e5a96" stroke-width="0.35"/>
<polygon points="252.2,173.06 259.1,170.74 267.67,59.73 260.13,61.56" fill="#4f3a78" stroke="#4f3a78" stroke-width="0.35"/>
<polygon points="258.16,60.49 265.69,58.68 267.67,59.73 260.13,61.56" fill="#46336a" stroke="#46336a" stroke-width="0.35"/>
<polygon points="111.74,173.38 112.98,174.77 110.43,129.53 109.15,128.25" fill="#6a5590" stroke="#6a5590" stroke-width="0.35"/>
<polygon points="112.98,174.77 120.7,172.44 118.49,127.38 110.43,129.53" fill="#4a3572" stroke="#4a3572" stroke-width="0.35"/>
<polygon points="109.15,128.25 117.19,126.12 118.49,127.38 110.43,129.53" fill="#412f64" stroke="#412f64" stroke-width="0.35"/>
<polygon points="274.96,172.44 276.81,173.83 287.05,64.52 284.97,63.44" fill="#3caad2" stroke="#3caad2" stroke-width="0.35"/>
<polygon points="276.81,173.83 283.58,171.5 294.43,62.67 287.05,64.52" fill="#1e788c" stroke="#1e788c" stroke-width="0.35"/>
<polygon points="284.97,63.44 292.33,61.61 294.43,62.67 287.05,64.52" fill="#1a6a7b" stroke="#1a6a7b" stroke-width="0.35"/>
<line x1="136.71" y1="175.04" x2="144.3" y2="172.7" stroke="#2e5a66" stroke-width="1.5"/>
<polygon points="299.61,173.21 301.56,174.61 314.39,64.42 312.18,63.33" fill="#e88a3a" stroke="#e88a3a" stroke-width="0.35"/>
<polygon points="301.56,174.61 308.2,172.26 321.61,62.56 314.39,64.42" fill="#c8641e" stroke="#c8641e" stroke-width="0.35"/>
<polygon points="312.18,63.33 319.39,61.49 321.61,62.56 314.39,64.42" fill="#b0581a" stroke="#b0581a" stroke-width="0.35"/>
<polygon points="160.12,174.92 161.54,176.33 161.49,171.75 160.06,170.35" fill="#d8803a" stroke="#d8803a" stroke-width="0.35"/>
<polygon points="161.54,176.33 169.02,173.98 169,169.41 161.49,171.75" fill="#be5f19" stroke="#be5f19" stroke-width="0.35"/>
<polygon points="160.06,170.35 167.55,168.03 169,169.41 161.49,171.75" fill="#a75416" stroke="#a75416" stroke-width="0.35"/>
<polygon points="184.51,175.7 186.04,177.12 186.4,142.5 184.83,141.17" fill="#4a80c8" stroke="#4a80c8" stroke-width="0.35"/>
<polygon points="186.04,177.12 193.39,174.75 193.99,140.27 186.4,142.5" fill="#285faa" stroke="#285faa" stroke-width="0.35"/>
<polygon points="184.83,141.17 192.39,138.96 193.99,140.27 186.4,142.5" fill="#235496" stroke="#235496" stroke-width="0.35"/>
<line x1="45.24" y1="178.33" x2="53.43" y2="175.96" stroke="#4a6488" stroke-width="1.5"/>
<line x1="210.08" y1="177.39" x2="217.3" y2="175.02" stroke="#8a2a2a" stroke-width="1.5"/>
<polygon points="68.75,178.21 69.83,179.64 66.86,148.78 65.76,147.43" fill="#a03430" stroke="#a03430" stroke-width="0.35"/>
<polygon points="69.83,179.64 77.91,177.25 75.18,146.51 66.86,148.78" fill="#821a1e" stroke="#821a1e" stroke-width="0.35"/>
<polygon points="65.76,147.43 74.05,145.18 75.18,146.51 66.86,148.78" fill="#72171a" stroke="#72171a" stroke-width="0.35"/>
<line x1="234.82" y1="178.18" x2="241.91" y2="175.8" stroke="#a0a890" stroke-width="1.5"/>
<polygon points="93.02,179.01 94.2,180.44 91.64,145.72 90.43,144.38" fill="#7a9a3a" stroke="#7a9a3a" stroke-width="0.35"/>
<polygon points="94.2,180.44 102.15,178.04 99.86,143.46 91.64,145.72" fill="#5c7a22" stroke="#5c7a22" stroke-width="0.35"/>
<polygon points="90.43,144.38 98.62,142.13 99.86,143.46 91.64,145.72" fill="#516b1e" stroke="#516b1e" stroke-width="0.35"/>
<polygon points="258.54,178.07 260.36,179.5 269.29,66.54 267.24,65.43" fill="#6e5a96" stroke="#6e5a96" stroke-width="0.35"/>
<polygon points="260.36,179.5 267.33,177.1 276.91,64.64 269.29,66.54" fill="#4f3a78" stroke="#4f3a78" stroke-width="0.35"/>
<polygon points="267.24,65.43 274.85,63.55 276.91,64.64 269.29,66.54" fill="#46336a" stroke="#46336a" stroke-width="0.35"/>
<line x1="118.25" y1="180.72" x2="126.07" y2="178.31" stroke="#4a4060" stroke-width="1.5"/>
<polygon points="283.5,178.87 285.42,180.31 296.73,69.56 294.57,68.44" fill="#3caad2" stroke="#3caad2" stroke-width="0.35"/>
<polygon points="285.42,180.31 292.26,177.9 304.19,67.64 296.73,69.56" fill="#1e788c" stroke="#1e788c" stroke-width="0.35"/>
<polygon points="294.57,68.44 302.01,66.53 304.19,67.64 296.73,69.56" fill="#1a6a7b" stroke="#1a6a7b" stroke-width="0.35"/>
<polygon points="141.99,180.61 143.37,182.06 142.4,148.27 140.98,146.91" fill="#2f7a8c" stroke="#2f7a8c" stroke-width="0.35"/>
<polygon points="143.37,182.06 151.07,179.63 150.34,145.98 142.4,148.27" fill="#1f5f70" stroke="#1f5f70" stroke-width="0.35"/>
<polygon points="140.98,146.91 148.9,144.64 150.34,145.98 142.4,148.27" fill="#1b5463" stroke="#1b5463" stroke-width="0.35"/>
<polygon points="308.61,179.67 310.63,181.12 324.55,70.1 322.27,68.97" fill="#e88a3a" stroke="#e88a3a" stroke-width="0.35"/>
<polygon points="310.63,181.12 317.33,178.69 331.84,68.17 324.55,70.1" fill="#c8641e" stroke="#c8641e" stroke-width="0.35"/>
<polygon points="322.27,68.97 329.54,67.06 331.84,68.17 324.55,70.1" fill="#b0581a" stroke="#b0581a" stroke-width="0.35"/>
<polygon points="166.69,181.41 168.17,182.87 168.12,174.6 166.63,173.16" fill="#d8803a" stroke="#d8803a" stroke-width="0.35"/>
<polygon points="168.17,182.87 175.73,180.43 175.74,172.2 168.12,174.6" fill="#be5f19" stroke="#be5f19" stroke-width="0.35"/>
<polygon points="166.63,173.16 174.24,170.78 175.74,172.2 168.12,174.6" fill="#a75416" stroke="#a75416" stroke-width="0.35"/>
<polygon points="191.53,182.22 193.11,183.69 193.39,166.98 191.79,165.56" fill="#4a80c8" stroke="#4a80c8" stroke-width="0.35"/>
<polygon points="193.11,183.69 200.54,181.24 200.94,164.6 193.39,166.98" fill="#285faa" stroke="#285faa" stroke-width="0.35"/>
<polygon points="191.79,165.56 199.32,163.2 200.94,164.6 193.39,166.98" fill="#235496" stroke="#235496" stroke-width="0.35"/>
<line x1="49.84" y1="184.91" x2="58.14" y2="182.46" stroke="#4a6488" stroke-width="1.5"/>
<line x1="217.58" y1="183.98" x2="224.88" y2="181.52" stroke="#8a2a2a" stroke-width="1.5"/>
<polygon points="73.76,184.8 74.88,186.28 71.6,150.67 70.45,149.29" fill="#a03430" stroke="#a03430" stroke-width="0.35"/>
<polygon points="74.88,186.28 83.07,183.81 80.07,148.34 71.6,150.67" fill="#821a1e" stroke="#821a1e" stroke-width="0.35"/>
<polygon points="70.45,149.29 78.9,146.98 80.07,148.34 71.6,150.67" fill="#72171a" stroke="#72171a" stroke-width="0.35"/>
<line x1="242.78" y1="184.8" x2="249.94" y2="182.34" stroke="#a0a890" stroke-width="1.5"/>
<line x1="99.25" y1="186.57" x2="107.3" y2="184.09" stroke="#b4b4b8" stroke-width="1.5"/>
<polygon points="266.92,184.69 268.81,186.18 278.8,71.71 276.68,70.56" fill="#6e5a96" stroke="#6e5a96" stroke-width="0.35"/>
<polygon points="268.81,186.18 275.84,183.69 286.51,69.74 278.8,71.71" fill="#4f3a78" stroke="#4f3a78" stroke-width="0.35"/>
<polygon points="276.68,70.56 284.37,68.6 286.51,69.74 278.8,71.71" fill="#46336a" stroke="#46336a" stroke-width="0.35"/>
<line x1="124.18" y1="187.4" x2="132.09" y2="184.92" stroke="#4a4060" stroke-width="1.5"/>
<polygon points="292.35,185.52 294.34,187.01 306.8,74.8 304.55,73.63" fill="#3caad2" stroke="#3caad2" stroke-width="0.35"/>
<polygon points="294.34,187.01 301.24,184.52 314.32,72.81 306.8,74.8" fill="#1e788c" stroke="#1e788c" stroke-width="0.35"/>
<polygon points="304.55,73.63 312.06,71.65 314.32,72.81 306.8,74.8" fill="#1a6a7b" stroke="#1a6a7b" stroke-width="0.35"/>
<polygon points="148.34,187.29 149.77,188.79 147.49,89.24 145.94,88.03" fill="#2f7a8c" stroke="#2f7a8c" stroke-width="0.35"/>
<polygon points="149.77,188.79 157.56,186.28 156.01,87.18 147.49,89.24" fill="#1f5f70" stroke="#1f5f70" stroke-width="0.35"/>
<polygon points="145.94,88.03 154.44,85.97 156.01,87.18 147.49,89.24" fill="#1b5463" stroke="#1b5463" stroke-width="0.35"/>
<polygon points="317.92,186.36 320.02,187.86 335.16,75.62 332.79,74.44" fill="#e88a3a" stroke="#e88a3a" stroke-width="0.35"/>
<polygon points="320.02,187.86 326.78,185.35 342.52,73.61 335.16,75.62" fill="#c8641e" stroke="#c8641e" stroke-width="0.35"/>
<polygon points="332.79,74.44 340.13,72.45 342.52,73.61 335.16,75.62" fill="#b0581a" stroke="#b0581a" stroke-width="0.35"/>
<polygon points="173.49,188.13 175.02,189.64 175.07,93.56 173.41,92.32" fill="#d8803a" stroke="#d8803a" stroke-width="0.35"/>
<polygon points="175.02,189.64 182.68,187.12 183.41,91.46 175.07,93.56" fill="#be5f19" stroke="#be5f19" stroke-width="0.35"/>
<polygon points="173.41,92.32 181.72,90.24 183.41,91.46 175.07,93.56" fill="#a75416" stroke="#a75416" stroke-width="0.35"/>
<polygon points="198.79,188.98 200.43,190.5 200.55,185.27 198.91,183.77" fill="#4a80c8" stroke="#4a80c8" stroke-width="0.35"/>
<polygon points="200.43,190.5 207.95,187.96 208.11,182.76 200.55,185.27" fill="#285faa" stroke="#285faa" stroke-width="0.35"/>
<polygon points="198.91,183.77 206.45,181.27 208.11,182.76 200.55,185.27" fill="#235496" stroke="#235496" stroke-width="0.35"/>
<line x1="54.6" y1="191.73" x2="63.02" y2="189.19" stroke="#4a6488" stroke-width="1.5"/>
<polygon points="224.25,189.83 225.98,191.36 228.39,141.17 226.56,139.78" fill="#d25046" stroke="#d25046" stroke-width="0.35"/>
<polygon points="225.98,191.36 233.37,188.81 236.1,138.83 228.39,141.17" fill="#aa282d" stroke="#aa282d" stroke-width="0.35"/>
<polygon points="226.56,139.78 234.26,137.46 236.1,138.83 228.39,141.17" fill="#962328" stroke="#962328" stroke-width="0.35"/>
<line x1="79.69" y1="192.59" x2="87.98" y2="190.04" stroke="#6e2a28" stroke-width="1.5"/>
<line x1="251.02" y1="191.66" x2="258.26" y2="189.11" stroke="#a0a890" stroke-width="1.5"/>
<line x1="104.93" y1="193.46" x2="113.08" y2="190.89" stroke="#b4b4b8" stroke-width="1.5"/>
<polygon points="275.6,191.55 277.56,193.09 288.69,77.09 286.48,75.89" fill="#6e5a96" stroke="#6e5a96" stroke-width="0.35"/>
<polygon points="277.56,193.09 284.67,190.52 296.49,75.04 288.69,77.09" fill="#4f3a78" stroke="#4f3a78" stroke-width="0.35"/>
<polygon points="286.48,75.89 294.26,73.86 296.49,75.04 288.69,77.09" fill="#46336a" stroke="#46336a" stroke-width="0.35"/>
<polygon points="129.44,193.34 130.82,194.89 129.68,167.01 128.28,165.54" fill="#6a5590" stroke="#6a5590" stroke-width="0.35"/>
<polygon points="130.82,194.89 138.84,192.31 137.92,164.54 129.68,167.01" fill="#4a3572" stroke="#4a3572" stroke-width="0.35"/>
<polygon points="128.28,165.54 136.49,163.08 137.92,164.54 129.68,167.01" fill="#412f64" stroke="#412f64" stroke-width="0.35"/>
<polygon points="301.51,192.41 303.57,193.96 317.21,80.63 314.88,79.41" fill="#3caad2" stroke="#3caad2" stroke-width="0.35"/>
<polygon points="303.57,193.96 310.54,191.38 324.82,78.56 317.21,80.63" fill="#1e788c" stroke="#1e788c" stroke-width="0.35"/>
<polygon points="314.88,79.41 322.46,77.36 324.82,78.56 317.21,80.63" fill="#1a6a7b" stroke="#1a6a7b" stroke-width="0.35"/>
<polygon points="154.92,194.22 156.39,195.77 156.27,188.39 154.78,186.85" fill="#2f7a8c" stroke="#2f7a8c" stroke-width="0.35"/>
<polygon points="156.39,195.77 164.29,193.18 164.22,185.82 156.27,188.39" fill="#1f5f70" stroke="#1f5f70" stroke-width="0.35"/>
<polygon points="154.78,186.85 162.71,184.3 164.22,185.82 156.27,188.39" fill="#1b5463" stroke="#1b5463" stroke-width="0.35"/>
<line x1="181.55" y1="196.09" x2="189.3" y2="193.48" stroke="#a06030" stroke-width="1.5"/>
<line x1="207.4" y1="196.98" x2="215" y2="194.36" stroke="#3a5a8a" stroke-width="1.5"/>
<polygon points="58.83,197.79 59.94,199.37 58.22,183.38 57.11,181.84" fill="#3a64a4" stroke="#3a64a4" stroke-width="0.35"/>
<polygon points="59.94,199.37 68.48,196.74 66.91,180.81 58.22,183.38" fill="#244c8c" stroke="#244c8c" stroke-width="0.35"/>
<polygon points="57.11,181.84 65.77,179.29 66.91,180.81 58.22,183.38" fill="#20437b" stroke="#20437b" stroke-width="0.35"/>
<polygon points="232.26,196.86 234.06,198.45 236.19,160.22 234.32,158.74" fill="#d25046" stroke="#d25046" stroke-width="0.35"/>
<polygon points="234.06,198.45 241.53,195.81 243.92,157.74 236.19,160.22" fill="#aa282d" stroke="#aa282d" stroke-width="0.35"/>
<polygon points="234.32,158.74 242.02,156.28 243.92,157.74 236.19,160.22" fill="#962328" stroke="#962328" stroke-width="0.35"/>
<line x1="85.09" y1="199.69" x2="93.5" y2="197.05" stroke="#6e2a28" stroke-width="1.5"/>
<polygon points="258.35,197.76 260.26,199.35 264.45,147.26 262.43,145.81" fill="#9cc050" stroke="#9cc050" stroke-width="0.35"/>
<polygon points="260.26,199.35 267.59,196.7 272.1,144.83 264.45,147.26" fill="#789b32" stroke="#789b32" stroke-width="0.35"/>
<polygon points="262.43,145.81 270.06,143.4 272.1,144.83 264.45,147.26" fill="#6a882c" stroke="#6a882c" stroke-width="0.35"/>
<polygon points="109.97,199.58 111.29,201.18 111,196.41 109.68,194.83" fill="#7a9a3a" stroke="#7a9a3a" stroke-width="0.35"/>
<polygon points="111.29,201.18 119.56,198.52 119.32,193.77 111,196.41" fill="#5c7a22" stroke="#5c7a22" stroke-width="0.35"/>
<polygon points="109.68,194.83 117.97,192.2 119.32,193.77 111,196.41" fill="#516b1e" stroke="#516b1e" stroke-width="0.35"/>
<polygon points="284.6,198.65 286.63,200.25 298.99,82.68 296.69,81.43" fill="#6e5a96" stroke="#6e5a96" stroke-width="0.35"/>
<polygon points="286.63,200.25 293.81,197.59 306.87,80.56 298.99,82.68" fill="#4f3a78" stroke="#4f3a78" stroke-width="0.35"/>
<polygon points="296.69,81.43 304.55,79.33 306.87,80.56 298.99,82.68" fill="#46336a" stroke="#46336a" stroke-width="0.35"/>
<line x1="136.68" y1="201.51" x2="144.8" y2="198.84" stroke="#4a4060" stroke-width="1.5"/>
<line x1="162.71" y1="202.42" x2="170.69" y2="199.74" stroke="#2e5a66" stroke-width="1.5"/>
<polygon points="187.85,202.31 189.49,203.93 189.72,187.76 188.05,186.18" fill="#d8803a" stroke="#d8803a" stroke-width="0.35"/>
<polygon points="189.49,203.93 197.34,201.23 197.69,185.12 189.72,187.76" fill="#be5f19" stroke="#be5f19" stroke-width="0.35"/>
<polygon points="188.05,186.18 196,183.56 197.69,185.12 189.72,187.76" fill="#a75416" stroke="#a75416" stroke-width="0.35"/>
<line x1="215.24" y1="204.27" x2="222.94" y2="201.56" stroke="#3a5a8a" stroke-width="1.5"/>
<polygon points="63.92,205.08 65.07,206.72 63.74,193.82 62.58,192.21" fill="#3a64a4" stroke="#3a64a4" stroke-width="0.35"/>
<polygon points="65.07,206.72 73.74,203.99 72.52,191.14 63.74,193.82" fill="#244c8c" stroke="#244c8c" stroke-width="0.35"/>
<polygon points="62.58,192.21 71.34,189.55 72.52,191.14 63.74,193.82" fill="#20437b" stroke="#20437b" stroke-width="0.35"/>
<polygon points="240.57,204.16 242.44,205.8 245.51,157.87 243.54,156.36" fill="#d25046" stroke="#d25046" stroke-width="0.35"/>
<polygon points="242.44,205.8 249.99,203.06 253.38,155.33 245.51,157.87" fill="#aa282d" stroke="#aa282d" stroke-width="0.35"/>
<polygon points="243.54,156.36 251.39,153.84 253.38,155.33 245.51,157.87" fill="#962328" stroke="#962328" stroke-width="0.35"/>
<line x1="90.7" y1="207.06" x2="99.22" y2="204.32" stroke="#6e2a28" stroke-width="1.5"/>
<polygon points="267.17,205.09 269.15,206.74 275.9,131.17 273.75,129.73" fill="#9cc050" stroke="#9cc050" stroke-width="0.35"/>
<polygon points="269.15,206.74 276.56,203.99 283.79,128.75 275.9,131.17" fill="#789b32" stroke="#789b32" stroke-width="0.35"/>
<polygon points="273.75,129.73 281.61,127.33 283.79,128.75 275.9,131.17" fill="#6a882c" stroke="#6a882c" stroke-width="0.35"/>
<line x1="116.91" y1="208" x2="125.29" y2="205.25" stroke="#b4b4b8" stroke-width="1.5"/>
<line x1="143.28" y1="208.95" x2="151.51" y2="206.18" stroke="#4a4060" stroke-width="1.5"/>
<line x1="169.82" y1="209.91" x2="177.9" y2="207.13" stroke="#2e5a66" stroke-width="1.5"/>
<line x1="196.52" y1="210.87" x2="204.45" y2="208.07" stroke="#a06030" stroke-width="1.5"/>
<polygon points="222.23,210.76 224.05,212.45 226.38,162.86 224.46,161.3" fill="#4a80c8" stroke="#4a80c8" stroke-width="0.35"/>
<polygon points="224.05,212.45 231.84,209.63 234.52,160.25 226.38,162.86" fill="#285faa" stroke="#285faa" stroke-width="0.35"/>
<polygon points="224.46,161.3 232.58,158.71 234.52,160.25 226.38,162.86" fill="#235496" stroke="#235496" stroke-width="0.35"/>
<polygon points="69.2,212.64 70.39,214.34 68.22,192.4 67.02,190.76" fill="#3a64a4" stroke="#3a64a4" stroke-width="0.35"/>
<polygon points="70.39,214.34 79.19,211.51 77.22,189.66 68.22,192.4" fill="#244c8c" stroke="#244c8c" stroke-width="0.35"/>
<polygon points="67.02,190.76 75.98,188.04 77.22,189.66 68.22,192.4" fill="#20437b" stroke="#20437b" stroke-width="0.35"/>
<polygon points="249.19,211.73 251.13,213.43 257.42,127.05 255.29,125.59" fill="#d25046" stroke="#d25046" stroke-width="0.35"/>
<polygon points="251.13,213.43 258.77,210.59 265.63,124.6 257.42,127.05" fill="#aa282d" stroke="#aa282d" stroke-width="0.35"/>
<polygon points="255.29,125.59 263.48,123.16 265.63,124.6 257.42,127.05" fill="#962328" stroke="#962328" stroke-width="0.35"/>
<line x1="96.51" y1="214.7" x2="105.16" y2="211.86" stroke="#6e2a28" stroke-width="1.5"/>
<line x1="123.24" y1="215.69" x2="131.73" y2="212.83" stroke="#b4b4b8" stroke-width="1.5"/>
<line x1="150.13" y1="216.68" x2="158.47" y2="213.81" stroke="#4a4060" stroke-width="1.5"/>
<line x1="177.19" y1="217.68" x2="185.38" y2="214.79" stroke="#2e5a66" stroke-width="1.5"/>
<polygon points="203.3,217.57 205.08,219.32 207.33,142.34 205.41,140.81" fill="#d8803a" stroke="#d8803a" stroke-width="0.35"/>
<polygon points="205.08,219.32 213.12,216.41 215.94,139.77 207.33,142.34" fill="#be5f19" stroke="#be5f19" stroke-width="0.35"/>
<polygon points="205.41,140.81 214,138.26 215.94,139.77 207.33,142.34" fill="#a75416" stroke="#a75416" stroke-width="0.35"/>
<polygon points="230.63,218.57 232.53,220.33 233.57,201.49 231.64,199.78" fill="#4a80c8" stroke="#4a80c8" stroke-width="0.35"/>
<polygon points="232.53,220.33 240.41,217.41 241.59,198.64 233.57,201.49" fill="#285faa" stroke="#285faa" stroke-width="0.35"/>
<polygon points="231.64,199.78 239.64,196.95 241.59,198.64 233.57,201.49" fill="#235496" stroke="#235496" stroke-width="0.35"/>
<polygon points="74.69,220.49 75.92,222.26 73.18,193.22 71.92,191.52" fill="#3a64a4" stroke="#3a64a4" stroke-width="0.35"/>
<polygon points="75.92,222.26 84.85,219.32 82.38,190.39 73.18,193.22" fill="#244c8c" stroke="#244c8c" stroke-width="0.35"/>
<polygon points="71.92,191.52 81.09,188.73 82.38,190.39 73.18,193.22" fill="#20437b" stroke="#20437b" stroke-width="0.35"/>
<line x1="102.56" y1="222.64" x2="111.32" y2="219.69" stroke="#6e2a28" stroke-width="1.5"/>
<line x1="129.81" y1="223.67" x2="138.43" y2="220.71" stroke="#b4b4b8" stroke-width="1.5"/>
<polygon points="156.24,223.56 157.83,225.36 157.36,196.11 155.73,194.39" fill="#6a5590" stroke="#6a5590" stroke-width="0.35"/>
<polygon points="157.83,225.36 166.29,222.37 166.07,193.24 157.36,196.11" fill="#4a3572" stroke="#4a3572" stroke-width="0.35"/>
<polygon points="155.73,194.39 164.4,191.55 166.07,193.24 157.36,196.11" fill="#412f64" stroke="#412f64" stroke-width="0.35"/>
<line x1="184.86" y1="225.75" x2="193.16" y2="222.75" stroke="#2e5a66" stroke-width="1.5"/>
<polygon points="211.48,225.64 213.32,227.46 213.42,224.71 211.58,222.9" fill="#d8803a" stroke="#d8803a" stroke-width="0.35"/>
<polygon points="213.32,227.46 221.46,224.44 221.59,221.7 213.42,224.71" fill="#be5f19" stroke="#be5f19" stroke-width="0.35"/>
<polygon points="211.58,222.9 219.72,219.91 221.59,221.7 213.42,224.71" fill="#a75416" stroke="#a75416" stroke-width="0.35"/>
<line x1="81.2" y1="229.82" x2="90.25" y2="226.78" stroke="#4a6488" stroke-width="1.5"/>
<polygon points="107.94,229.72 109.35,231.56 108.5,218.17 107.08,216.36" fill="#a03430" stroke="#a03430" stroke-width="0.35"/>
<polygon points="109.35,231.56 118.25,228.49 117.53,215.15 108.5,218.17" fill="#821a1e" stroke="#821a1e" stroke-width="0.35"/>
<polygon points="107.08,216.36 116.08,213.36 117.53,215.15 108.5,218.17" fill="#72171a" stroke="#72171a" stroke-width="0.35"/>
<line x1="136.65" y1="231.97" x2="145.38" y2="228.89" stroke="#b4b4b8" stroke-width="1.5"/>
<line x1="164.65" y1="233.05" x2="173.22" y2="229.96" stroke="#4a4060" stroke-width="1.5"/>
<polygon points="191.69,232.95 193.48,234.83 193.74,220.77 191.93,218.93" fill="#2f7a8c" stroke="#2f7a8c" stroke-width="0.35"/>
<polygon points="193.48,234.83 201.89,231.71 202.26,217.71 193.74,220.77" fill="#1f5f70" stroke="#1f5f70" stroke-width="0.35"/>
<polygon points="191.93,218.93 200.43,215.89 202.26,217.71 193.74,220.77" fill="#1b5463" stroke="#1b5463" stroke-width="0.35"/>
<polygon points="86.3,237.14 87.64,239.05 86.3,223.24 84.95,221.37" fill="#3a64a4" stroke="#3a64a4" stroke-width="0.35"/>
<polygon points="87.64,239.05 96.84,235.87 95.66,220.13 86.3,223.24" fill="#244c8c" stroke="#244c8c" stroke-width="0.35"/>
<polygon points="84.95,221.37 94.28,218.28 95.66,220.13 86.3,223.24" fill="#20437b" stroke="#20437b" stroke-width="0.35"/>
<line x1="115.36" y1="239.47" x2="124.39" y2="236.29" stroke="#6e2a28" stroke-width="1.5"/>
<line x1="143.76" y1="240.6" x2="152.61" y2="237.4" stroke="#b4b4b8" stroke-width="1.5"/>
<polygon points="171.25,240.49 172.97,242.44 172.92,207.71 171.14,205.86" fill="#6a5590" stroke="#6a5590" stroke-width="0.35"/>
<polygon points="172.97,242.44 181.67,239.21 181.91,204.63 172.92,207.71" fill="#4a3572" stroke="#4a3572" stroke-width="0.35"/>
<polygon points="171.14,205.86 180.1,202.8 181.91,204.63 172.92,207.71" fill="#412f64" stroke="#412f64" stroke-width="0.35"/>
<polygon points="92.47,245.96 93.86,247.95 90.23,202.1 88.8,200.23" fill="#3a64a4" stroke="#3a64a4" stroke-width="0.35"/>
<polygon points="93.86,247.95 103.2,244.65 100.02,198.99 90.23,202.1" fill="#244c8c" stroke="#244c8c" stroke-width="0.35"/>
<polygon points="88.8,200.23 98.55,197.15 100.02,198.99 90.23,202.1" fill="#20437b" stroke="#20437b" stroke-width="0.35"/>
<polygon points="121.19,247.13 122.71,249.13 122.31,241.17 120.77,239.19" fill="#a03430" stroke="#a03430" stroke-width="0.35"/>
<polygon points="122.71,249.13 131.88,245.81 131.55,237.89 122.31,241.17" fill="#821a1e" stroke="#821a1e" stroke-width="0.35"/>
<polygon points="120.77,239.19 129.99,235.93 131.55,237.89 122.31,241.17" fill="#72171a" stroke="#72171a" stroke-width="0.35"/>
<line x1="151.16" y1="249.58" x2="160.14" y2="246.25" stroke="#6f8a2a" stroke-width="1.9"/>
<polygon points="98.89,255.15 100.33,257.23 98.36,230.36 96.88,228.35" fill="#3a64a4" stroke="#3a64a4" stroke-width="0.35"/>
<polygon points="100.33,257.23 109.83,253.79 108.12,227.03 98.36,230.36" fill="#244c8c" stroke="#244c8c" stroke-width="0.35"/>
<polygon points="96.88,228.35 106.61,225.06 108.12,227.03 98.36,230.36" fill="#20437b" stroke="#20437b" stroke-width="0.35"/>
<polygon points="128.22,256.37 129.81,258.46 127.25,200.57 125.58,198.65" fill="#a03430" stroke="#a03430" stroke-width="0.35"/>
<polygon points="129.81,258.46 139.12,255 137.11,197.36 127.25,200.57" fill="#821a1e" stroke="#821a1e" stroke-width="0.35"/>
<polygon points="125.58,198.65 135.41,195.47 137.11,197.36 127.25,200.57" fill="#72171a" stroke="#72171a" stroke-width="0.35"/>
<polygon points="105.58,264.73 107.09,266.9 105.58,244.54 104.04,242.43" fill="#3a64a4" stroke="#3a64a4" stroke-width="0.35"/>
<polygon points="107.09,266.9 116.73,263.32 115.45,241.05 105.58,244.54" fill="#244c8c" stroke="#244c8c" stroke-width="0.35"/>
<polygon points="104.04,242.43 113.88,238.98 115.45,241.05 105.58,244.54" fill="#20437b" stroke="#20437b" stroke-width="0.35"/>
<line x1="335.19" y1="186.27" x2="337.39" y2="186.87" stroke="#c8c8c8" stroke-width="0.7"/>
<text x="339.79" y="189.67" font-size="7.5" font-weight="bold">0</text>
<line x1="336.75" y1="175.8" x2="338.95" y2="176.4" stroke="#c8c8c8" stroke-width="0.7"/>
<text x="341.47" y="179.28" font-size="7.5" font-weight="bold">10</text>
<line x1="338.34" y1="165.12" x2="340.54" y2="165.72" stroke="#c8c8c8" stroke-width="0.7"/>
<text x="343.18" y="168.68" font-size="7.5" font-weight="bold">20</text>
<line x1="339.96" y1="154.23" x2="342.16" y2="154.83" stroke="#c8c8c8" stroke-width="0.7"/>
<text x="344.92" y="157.87" font-size="7.5" font-weight="bold">30</text>
<line x1="341.61" y1="143.12" x2="343.81" y2="143.72" stroke="#c8c8c8" stroke-width="0.7"/>
<text x="346.69" y="146.84" font-size="7.5" font-weight="bold">40</text>
<line x1="343.3" y1="131.79" x2="345.5" y2="132.39" stroke="#c8c8c8" stroke-width="0.7"/>
<text x="348.5" y="135.59" font-size="7.5" font-weight="bold">50</text>
<line x1="345.02" y1="120.23" x2="347.22" y2="120.83" stroke="#c8c8c8" stroke-width="0.7"/>
<text x="350.34" y="124.11" font-size="7.5" font-weight="bold">60</text>
<line x1="346.77" y1="108.43" x2="348.97" y2="109.03" stroke="#c8c8c8" stroke-width="0.7"/>
<text x="352.21" y="112.39" font-size="7.5" font-weight="bold">70</text>
<line x1="348.57" y1="96.38" x2="350.77" y2="96.98" stroke="#c8c8c8" stroke-width="0.7"/>
<text x="354.13" y="100.42" font-size="7.5" font-weight="bold">80</text>
<line x1="350.4" y1="84.08" x2="352.6" y2="84.68" stroke="#c8c8c8" stroke-width="0.7"/>
<text x="356.08" y="88.2" font-size="7.5" font-weight="bold">90</text>
<line x1="352.26" y1="71.52" x2="354.46" y2="72.12" stroke="#c8c8c8" stroke-width="0.7"/>
<text x="358.06" y="75.72" font-size="7.5" font-weight="bold">100</text>
<text transform="translate(117.27,272.95) rotate(-90)" text-anchor="end" font-size="6.4" font-weight="bold">PIRIMIPHOS</text>
<text transform="translate(139.96,264.44) rotate(-90)" text-anchor="end" font-size="6.4" font-weight="bold">COUMAPHOS</text>
<text transform="translate(161.88,256.23) rotate(-90)" text-anchor="end" font-size="6.4" font-weight="bold">CYANOPHOS</text>
<text transform="translate(183.05,248.29) rotate(-90)" text-anchor="end" font-size="6.4" font-weight="bold">FENSULPHOTHION</text>
<text transform="translate(203.53,240.61) rotate(-90)" text-anchor="end" font-size="6.4" font-weight="bold">TOLOPHOS</text>
<text transform="translate(223.33,233.19) rotate(-90)" text-anchor="end" font-size="6.4" font-weight="bold">DIMETOATE</text>
<text transform="translate(242.5,226) rotate(-90)" text-anchor="end" font-size="6.4" font-weight="bold">PHOSMET</text>
<text transform="translate(261.06,219.04) rotate(-90)" text-anchor="end" font-size="6.4" font-weight="bold">METHYL PARATHION</text>
<text transform="translate(279.04,212.3) rotate(-90)" text-anchor="end" font-size="6.4" font-weight="bold">DIAZINON</text>
<text transform="translate(296.47,205.76) rotate(-90)" text-anchor="end" font-size="6.4" font-weight="bold">CHLORPHOS</text>
<text transform="translate(313.37,199.43) rotate(-90)" text-anchor="end" font-size="6.4" font-weight="bold">PARATHION</text>
<text transform="translate(329.78,193.28) rotate(-90)" text-anchor="end" font-size="6.4" font-weight="bold">PARAOXON</text>
<text transform="translate(18.49,153.28) rotate(-50)" text-anchor="end" font-size="7" font-weight="bold">1</text>
<text transform="translate(22.31,158.89) rotate(-50)" text-anchor="end" font-size="7" font-weight="bold">2</text>
<text transform="translate(26.25,164.69) rotate(-50)" text-anchor="end" font-size="7" font-weight="bold">3</text>
<text transform="translate(30.33,170.68) rotate(-50)" text-anchor="end" font-size="7" font-weight="bold">4</text>
<text transform="translate(34.54,176.88) rotate(-50)" text-anchor="end" font-size="7" font-weight="bold">5</text>
<text transform="translate(38.9,183.29) rotate(-50)" text-anchor="end" font-size="7" font-weight="bold">6</text>
<text transform="translate(43.41,189.92) rotate(-50)" text-anchor="end" font-size="7" font-weight="bold">7</text>
<text transform="translate(48.08,196.79) rotate(-50)" text-anchor="end" font-size="7" font-weight="bold">8</text>
<text transform="translate(52.93,203.91) rotate(-50)" text-anchor="end" font-size="7" font-weight="bold">9</text>
<text transform="translate(57.95,211.3) rotate(-50)" text-anchor="end" font-size="7" font-weight="bold">10</text>
<text transform="translate(63.16,218.96) rotate(-50)" text-anchor="end" font-size="7" font-weight="bold">11</text>
<text transform="translate(68.57,226.92) rotate(-50)" text-anchor="end" font-size="7" font-weight="bold">12</text>
<text transform="translate(74.2,235.19) rotate(-50)" text-anchor="end" font-size="7" font-weight="bold">13</text>
<text transform="translate(80.05,243.8) rotate(-50)" text-anchor="end" font-size="7" font-weight="bold">14</text>
<text transform="translate(86.14,252.75) rotate(-50)" text-anchor="end" font-size="7" font-weight="bold">15</text>
<text transform="translate(92.49,262.08) rotate(-50)" text-anchor="end" font-size="7" font-weight="bold">WT</text>
<text transform="translate(99.1,271.8) rotate(-50)" text-anchor="end" font-size="7" font-weight="bold">K42R/K61R</text>
<text x="19.5" y="250.2" font-size="10" font-weight="bold">Enzyme</text>
<text x="204.6" y="294" font-size="10" font-weight="bold">Pesticide</text>
<text x="348.7" y="55.3" font-size="12.6" font-weight="bold">I %</text>
<defs>
<pattern id="hb" patternUnits="userSpaceOnUse" width="2.8" height="2.8" patternTransform="rotate(45)">
<rect width="2.8" height="2.8" fill="#9c9c9c"/><rect width="1.1" height="2.8" fill="#e6e6e6"/></pattern>
<pattern id="hd" patternUnits="userSpaceOnUse" width="2" height="2" patternTransform="rotate(45)">
<rect width="2" height="2" fill="#a0a0a0"/><rect width="0.9" height="2" fill="#d8d8d8"/></pattern>
</defs>
<rect x="438.1" y="150.9" width="8.2" height="103.9" fill="url(#hb)" stroke="#111" stroke-width="1.4"/>
<line x1="442.2" y1="133.32" x2="442.2" y2="167.08" stroke="#111" stroke-width="1.1"/>
<line x1="439.8" y1="133.32" x2="444.6" y2="133.32" stroke="#111" stroke-width="1.1"/>
<line x1="439.8" y1="167.08" x2="444.6" y2="167.08" stroke="#111" stroke-width="1.1"/>
<line x1="442.2" y1="254.8" x2="442.2" y2="258.3" stroke="#111" stroke-width="1.1"/>
<text transform="translate(448.2,266.8) rotate(-45)" text-anchor="end" font-size="8" font-weight="bold">1</text>
<rect x="452.7" y="88.4" width="8.2" height="166.4" fill="url(#hb)" stroke="#111" stroke-width="1.4"/>
<line x1="456.8" y1="81.45" x2="456.8" y2="93.95" stroke="#111" stroke-width="1.1"/>
<line x1="454.4" y1="81.45" x2="459.2" y2="81.45" stroke="#111" stroke-width="1.1"/>
<line x1="454.4" y1="93.95" x2="459.2" y2="93.95" stroke="#111" stroke-width="1.1"/>
<line x1="456.8" y1="254.8" x2="456.8" y2="258.3" stroke="#111" stroke-width="1.1"/>
<text transform="translate(462.8,266.8) rotate(-45)" text-anchor="end" font-size="8" font-weight="bold">2</text>
<rect x="467.3" y="167.78" width="8.2" height="87.02" fill="url(#hb)" stroke="#111" stroke-width="1.4"/>
<line x1="471.4" y1="150.83" x2="471.4" y2="183.32" stroke="#111" stroke-width="1.1"/>
<line x1="469" y1="150.83" x2="473.8" y2="150.83" stroke="#111" stroke-width="1.1"/>
<line x1="469" y1="183.32" x2="473.8" y2="183.32" stroke="#111" stroke-width="1.1"/>
<line x1="471.4" y1="254.8" x2="471.4" y2="258.3" stroke="#111" stroke-width="1.1"/>
<text transform="translate(477.4,266.8) rotate(-45)" text-anchor="end" font-size="8" font-weight="bold">3</text>
<rect x="481.9" y="88.4" width="8.2" height="166.4" fill="url(#hb)" stroke="#111" stroke-width="1.4"/>
<line x1="486" y1="81.45" x2="486" y2="93.95" stroke="#111" stroke-width="1.1"/>
<line x1="483.6" y1="81.45" x2="488.4" y2="81.45" stroke="#111" stroke-width="1.1"/>
<line x1="483.6" y1="93.95" x2="488.4" y2="93.95" stroke="#111" stroke-width="1.1"/>
<line x1="486" y1="254.8" x2="486" y2="258.3" stroke="#111" stroke-width="1.1"/>
<text transform="translate(492,266.8) rotate(-45)" text-anchor="end" font-size="8" font-weight="bold">4</text>
<rect x="496.5" y="146.52" width="8.2" height="108.28" fill="url(#hb)" stroke="#111" stroke-width="1.4"/>
<line x1="500.6" y1="128.95" x2="500.6" y2="162.7" stroke="#111" stroke-width="1.1"/>
<line x1="498.2" y1="128.95" x2="503" y2="128.95" stroke="#111" stroke-width="1.1"/>
<line x1="498.2" y1="162.7" x2="503" y2="162.7" stroke="#111" stroke-width="1.1"/>
<line x1="500.6" y1="254.8" x2="500.6" y2="258.3" stroke="#111" stroke-width="1.1"/>
<text transform="translate(506.6,266.8) rotate(-45)" text-anchor="end" font-size="8" font-weight="bold">5</text>
<rect x="511.1" y="122.78" width="8.2" height="132.03" fill="url(#hb)" stroke="#111" stroke-width="1.4"/>
<line x1="515.2" y1="104.26" x2="515.2" y2="139.89" stroke="#111" stroke-width="1.1"/>
<line x1="512.8" y1="104.26" x2="517.6" y2="104.26" stroke="#111" stroke-width="1.1"/>
<line x1="512.8" y1="139.89" x2="517.6" y2="139.89" stroke="#111" stroke-width="1.1"/>
<line x1="515.2" y1="254.8" x2="515.2" y2="258.3" stroke="#111" stroke-width="1.1"/>
<text transform="translate(521.2,266.8) rotate(-45)" text-anchor="end" font-size="8" font-weight="bold">6</text>
<rect x="525.7" y="88.4" width="8.2" height="166.4" fill="url(#hb)" stroke="#111" stroke-width="1.4"/>
<line x1="529.8" y1="81.45" x2="529.8" y2="93.95" stroke="#111" stroke-width="1.1"/>
<line x1="527.4" y1="81.45" x2="532.2" y2="81.45" stroke="#111" stroke-width="1.1"/>
<line x1="527.4" y1="93.95" x2="532.2" y2="93.95" stroke="#111" stroke-width="1.1"/>
<line x1="529.8" y1="254.8" x2="529.8" y2="258.3" stroke="#111" stroke-width="1.1"/>
<text transform="translate(535.8,266.8) rotate(-45)" text-anchor="end" font-size="8" font-weight="bold">7</text>
<rect x="540.3" y="88.4" width="8.2" height="166.4" fill="url(#hb)" stroke="#111" stroke-width="1.4"/>
<line x1="544.4" y1="81.45" x2="544.4" y2="93.95" stroke="#111" stroke-width="1.1"/>
<line x1="542" y1="81.45" x2="546.8" y2="81.45" stroke="#111" stroke-width="1.1"/>
<line x1="542" y1="93.95" x2="546.8" y2="93.95" stroke="#111" stroke-width="1.1"/>
<line x1="544.4" y1="254.8" x2="544.4" y2="258.3" stroke="#111" stroke-width="1.1"/>
<text transform="translate(550.4,266.8) rotate(-45)" text-anchor="end" font-size="8" font-weight="bold">8</text>
<rect x="554.9" y="106.53" width="8.2" height="148.27" fill="url(#hb)" stroke="#111" stroke-width="1.4"/>
<line x1="559" y1="87.7" x2="559" y2="123.95" stroke="#111" stroke-width="1.1"/>
<line x1="556.6" y1="87.7" x2="561.4" y2="87.7" stroke="#111" stroke-width="1.1"/>
<line x1="556.6" y1="123.95" x2="561.4" y2="123.95" stroke="#111" stroke-width="1.1"/>
<line x1="559" y1="254.8" x2="559" y2="258.3" stroke="#111" stroke-width="1.1"/>
<text transform="translate(565,266.8) rotate(-45)" text-anchor="end" font-size="8" font-weight="bold">9</text>
<rect x="569.5" y="192.15" width="8.2" height="62.65" fill="url(#hb)" stroke="#111" stroke-width="1.4"/>
<line x1="573.6" y1="175.2" x2="573.6" y2="207.7" stroke="#111" stroke-width="1.1"/>
<line x1="571.2" y1="175.2" x2="576" y2="175.2" stroke="#111" stroke-width="1.1"/>
<line x1="571.2" y1="207.7" x2="576" y2="207.7" stroke="#111" stroke-width="1.1"/>
<line x1="573.6" y1="254.8" x2="573.6" y2="258.3" stroke="#111" stroke-width="1.1"/>
<text transform="translate(579.6,266.8) rotate(-45)" text-anchor="end" font-size="8" font-weight="bold">10</text>
<rect x="584.1" y="209.02" width="8.2" height="45.78" fill="url(#hb)" stroke="#111" stroke-width="1.4"/>
<line x1="588.2" y1="193.32" x2="588.2" y2="212.5" stroke="#111" stroke-width="1.1"/>
<line x1="585.8" y1="193.32" x2="590.6" y2="193.32" stroke="#111" stroke-width="1.1"/>
<line x1="588.2" y1="254.8" x2="588.2" y2="258.3" stroke="#111" stroke-width="1.1"/>
<text transform="translate(594.2,266.8) rotate(-45)" text-anchor="end" font-size="8" font-weight="bold">11</text>
<rect x="598.7" y="195.9" width="8.2" height="58.9" fill="url(#hb)" stroke="#111" stroke-width="1.4"/>
<line x1="602.8" y1="179.58" x2="602.8" y2="210.83" stroke="#111" stroke-width="1.1"/>
<line x1="600.4" y1="179.58" x2="605.2" y2="179.58" stroke="#111" stroke-width="1.1"/>
<line x1="600.4" y1="210.83" x2="605.2" y2="210.83" stroke="#111" stroke-width="1.1"/>
<line x1="602.8" y1="254.8" x2="602.8" y2="258.3" stroke="#111" stroke-width="1.1"/>
<text transform="translate(608.8,266.8) rotate(-45)" text-anchor="end" font-size="8" font-weight="bold">12</text>
<rect x="613.3" y="129.65" width="8.2" height="125.15" fill="url(#hb)" stroke="#111" stroke-width="1.4"/>
<line x1="617.4" y1="111.45" x2="617.4" y2="146.45" stroke="#111" stroke-width="1.1"/>
<line x1="615" y1="111.45" x2="619.8" y2="111.45" stroke="#111" stroke-width="1.1"/>
<line x1="615" y1="146.45" x2="619.8" y2="146.45" stroke="#111" stroke-width="1.1"/>
<line x1="617.4" y1="254.8" x2="617.4" y2="258.3" stroke="#111" stroke-width="1.1"/>
<text transform="translate(623.4,266.8) rotate(-45)" text-anchor="end" font-size="8" font-weight="bold">13</text>
<rect x="627.9" y="191.52" width="8.2" height="63.28" fill="url(#hb)" stroke="#111" stroke-width="1.4"/>
<line x1="632" y1="174.58" x2="632" y2="207.07" stroke="#111" stroke-width="1.1"/>
<line x1="629.6" y1="174.58" x2="634.4" y2="174.58" stroke="#111" stroke-width="1.1"/>
<line x1="629.6" y1="207.07" x2="634.4" y2="207.07" stroke="#111" stroke-width="1.1"/>
<line x1="632" y1="254.8" x2="632" y2="258.3" stroke="#111" stroke-width="1.1"/>
<text transform="translate(638,266.8) rotate(-45)" text-anchor="end" font-size="8" font-weight="bold">14</text>
<rect x="642.5" y="88.4" width="8.2" height="166.4" fill="url(#hb)" stroke="#111" stroke-width="1.4"/>
<line x1="646.6" y1="81.45" x2="646.6" y2="93.95" stroke="#111" stroke-width="1.1"/>
<line x1="644.2" y1="81.45" x2="649" y2="81.45" stroke="#111" stroke-width="1.1"/>
<line x1="644.2" y1="93.95" x2="649" y2="93.95" stroke="#111" stroke-width="1.1"/>
<line x1="646.6" y1="254.8" x2="646.6" y2="258.3" stroke="#111" stroke-width="1.1"/>
<text transform="translate(652.6,266.8) rotate(-45)" text-anchor="end" font-size="8" font-weight="bold">15</text>
<rect x="657.1" y="88.4" width="8.2" height="166.4" fill="url(#hb)" stroke="#111" stroke-width="1.4"/>
<line x1="661.2" y1="78.33" x2="661.2" y2="97.08" stroke="#111" stroke-width="1.1"/>
<line x1="658.8" y1="78.33" x2="663.6" y2="78.33" stroke="#111" stroke-width="1.1"/>
<line x1="658.8" y1="97.08" x2="663.6" y2="97.08" stroke="#111" stroke-width="1.1"/>
<line x1="661.2" y1="254.8" x2="661.2" y2="258.3" stroke="#111" stroke-width="1.1"/>
<text transform="translate(667.2,266.8) rotate(-45)" text-anchor="end" font-size="8" font-weight="bold">WT</text>
<rect x="671.7" y="88.4" width="8.2" height="166.4" fill="url(#hb)" stroke="#111" stroke-width="1.4"/>
<line x1="675.8" y1="78.33" x2="675.8" y2="97.08" stroke="#111" stroke-width="1.1"/>
<line x1="673.4" y1="78.33" x2="678.2" y2="78.33" stroke="#111" stroke-width="1.1"/>
<line x1="673.4" y1="97.08" x2="678.2" y2="97.08" stroke="#111" stroke-width="1.1"/>
<line x1="675.8" y1="254.8" x2="675.8" y2="258.3" stroke="#111" stroke-width="1.1"/>
<text transform="translate(681.8,266.8) rotate(-45)" text-anchor="end" font-size="8" font-weight="bold">K42R/K16R</text>
<rect x="435.6" y="212.6" width="250" height="3.8" fill="#fff"/>
<line x1="434.8" y1="56" x2="434.8" y2="212.8" stroke="#111" stroke-width="1.5"/>
<line x1="434.8" y1="216.3" x2="434.8" y2="255.5" stroke="#111" stroke-width="1.5"/>
<line x1="434.1" y1="254.8" x2="683" y2="254.8" stroke="#111" stroke-width="1.5"/>
<line x1="432.3" y1="214.2" x2="437.3" y2="211.8" stroke="#111" stroke-width="1"/>
<line x1="432.3" y1="217.4" x2="437.3" y2="215" stroke="#111" stroke-width="1"/>
<line x1="431.6" y1="212.7" x2="434.8" y2="212.7" stroke="#111" stroke-width="1.1"/>
<line x1="432.8" y1="181.45" x2="434.8" y2="181.45" stroke="#111" stroke-width="1.1"/>
<line x1="431.6" y1="150.2" x2="434.8" y2="150.2" stroke="#111" stroke-width="1.1"/>
<line x1="432.8" y1="118.95" x2="434.8" y2="118.95" stroke="#111" stroke-width="1.1"/>
<line x1="431.6" y1="87.7" x2="434.8" y2="87.7" stroke="#111" stroke-width="1.1"/>
<line x1="432.8" y1="56.45" x2="434.8" y2="56.45" stroke="#111" stroke-width="1.1"/>
<text x="429" y="216.5" text-anchor="end" font-size="12" font-weight="bold">80</text>
<text x="429" y="154" text-anchor="end" font-size="12" font-weight="bold">90</text>
<text x="429" y="91.5" text-anchor="end" font-size="12" font-weight="bold">100</text>
<line x1="431.6" y1="254.8" x2="434.8" y2="254.8" stroke="#111" stroke-width="1.1"/>
<line x1="432.8" y1="247.2" x2="434.8" y2="247.2" stroke="#111" stroke-width="1.1"/>
<line x1="431.6" y1="239.6" x2="434.8" y2="239.6" stroke="#111" stroke-width="1.1"/>
<line x1="432.8" y1="232" x2="434.8" y2="232" stroke="#111" stroke-width="1.1"/>
<line x1="431.6" y1="224.4" x2="434.8" y2="224.4" stroke="#111" stroke-width="1.1"/>
<line x1="432.8" y1="216.8" x2="434.8" y2="216.8" stroke="#111" stroke-width="1.1"/>
<text x="429.3" y="259.1" text-anchor="end" font-size="12" font-weight="bold">0</text>
<text x="429.3" y="243.9" text-anchor="end" font-size="12" font-weight="bold">10</text>
<text x="429.3" y="228.7" text-anchor="end" font-size="12" font-weight="bold">20</text>
<text x="556.2" y="291.4" text-anchor="middle" font-size="13" font-weight="bold">Enzyme</text>
<text transform="translate(402.6,155) rotate(-90)" text-anchor="middle" font-size="14" font-weight="bold">I%</text>
<line x1="55.9" y1="332.2" x2="55.9" y2="514.2" stroke="#111" stroke-width="1.3"/>
<line x1="55.3" y1="513.6" x2="76" y2="513.6" stroke="#111" stroke-width="1.3"/>
<line x1="81.5" y1="513.6" x2="281.4" y2="513.6" stroke="#111" stroke-width="1.3"/>
<line x1="74.5" y1="516.6" x2="78" y2="510.6" stroke="#111" stroke-width="1"/>
<line x1="78.5" y1="516.6" x2="82" y2="510.6" stroke="#111" stroke-width="1"/>
<line x1="53.9" y1="513.46" x2="55.9" y2="513.46" stroke="#111" stroke-width="1"/>
<line x1="52.6" y1="498.4" x2="55.9" y2="498.4" stroke="#111" stroke-width="1"/>
<line x1="53.9" y1="483.34" x2="55.9" y2="483.34" stroke="#111" stroke-width="1"/>
<line x1="52.6" y1="468.28" x2="55.9" y2="468.28" stroke="#111" stroke-width="1"/>
<line x1="53.9" y1="453.22" x2="55.9" y2="453.22" stroke="#111" stroke-width="1"/>
<line x1="52.6" y1="438.16" x2="55.9" y2="438.16" stroke="#111" stroke-width="1"/>
<line x1="53.9" y1="423.1" x2="55.9" y2="423.1" stroke="#111" stroke-width="1"/>
<line x1="52.6" y1="408.04" x2="55.9" y2="408.04" stroke="#111" stroke-width="1"/>
<line x1="53.9" y1="392.98" x2="55.9" y2="392.98" stroke="#111" stroke-width="1"/>
<line x1="52.6" y1="377.92" x2="55.9" y2="377.92" stroke="#111" stroke-width="1"/>
<line x1="53.9" y1="362.86" x2="55.9" y2="362.86" stroke="#111" stroke-width="1"/>
<line x1="52.6" y1="347.8" x2="55.9" y2="347.8" stroke="#111" stroke-width="1"/>
<text x="50.9" y="502.7" text-anchor="end" font-size="12" font-weight="bold" letter-spacing="0.5">0</text>
<text x="50.9" y="472.58" text-anchor="end" font-size="12" font-weight="bold" letter-spacing="0.5">20</text>
<text x="50.9" y="442.46" text-anchor="end" font-size="12" font-weight="bold" letter-spacing="0.5">40</text>
<text x="50.9" y="412.34" text-anchor="end" font-size="12" font-weight="bold" letter-spacing="0.5">60</text>
<text x="50.9" y="382.22" text-anchor="end" font-size="12" font-weight="bold" letter-spacing="0.5">80</text>
<text x="50.9" y="352.1" text-anchor="end" font-size="12" font-weight="bold" letter-spacing="0.5">100</text>
<line x1="57.4" y1="513.6" x2="57.4" y2="517.1" stroke="#111" stroke-width="1"/>
<text x="57.65" y="530.3" text-anchor="middle" font-size="12" font-weight="bold" letter-spacing="0.5">0</text>
<line x1="80.2" y1="513.6" x2="80.2" y2="517.1" stroke="#111" stroke-width="1"/>
<text x="80.45" y="530.3" text-anchor="middle" font-size="12" font-weight="bold" letter-spacing="0.5">0.1</text>
<line x1="115.4" y1="513.6" x2="115.4" y2="517.1" stroke="#111" stroke-width="1"/>
<text x="115.65" y="530.3" text-anchor="middle" font-size="12" font-weight="bold" letter-spacing="0.5">1</text>
<line x1="150.6" y1="513.6" x2="150.6" y2="517.1" stroke="#111" stroke-width="1"/>
<text x="150.85" y="530.3" text-anchor="middle" font-size="12" font-weight="bold" letter-spacing="0.5">10</text>
<line x1="185.8" y1="513.6" x2="185.8" y2="517.1" stroke="#111" stroke-width="1"/>
<text x="186.05" y="530.3" text-anchor="middle" font-size="12" font-weight="bold" letter-spacing="0.5">100</text>
<line x1="221" y1="513.6" x2="221" y2="517.1" stroke="#111" stroke-width="1"/>
<text x="221.25" y="530.3" text-anchor="middle" font-size="12" font-weight="bold" letter-spacing="0.5">1000</text>
<line x1="256.2" y1="513.6" x2="256.2" y2="517.1" stroke="#111" stroke-width="1"/>
<text x="256.45" y="530.3" text-anchor="middle" font-size="12" font-weight="bold" letter-spacing="0.5">10000</text>
<line x1="90.8" y1="513.6" x2="90.8" y2="515.6" stroke="#111" stroke-width="0.8"/>
<line x1="96.99" y1="513.6" x2="96.99" y2="515.6" stroke="#111" stroke-width="0.8"/>
<line x1="101.39" y1="513.6" x2="101.39" y2="515.6" stroke="#111" stroke-width="0.8"/>
<line x1="104.8" y1="513.6" x2="104.8" y2="515.6" stroke="#111" stroke-width="0.8"/>
<line x1="107.59" y1="513.6" x2="107.59" y2="515.6" stroke="#111" stroke-width="0.8"/>
<line x1="109.95" y1="513.6" x2="109.95" y2="515.6" stroke="#111" stroke-width="0.8"/>
<line x1="111.99" y1="513.6" x2="111.99" y2="515.6" stroke="#111" stroke-width="0.8"/>
<line x1="113.79" y1="513.6" x2="113.79" y2="515.6" stroke="#111" stroke-width="0.8"/>
<line x1="126" y1="513.6" x2="126" y2="515.6" stroke="#111" stroke-width="0.8"/>
<line x1="132.19" y1="513.6" x2="132.19" y2="515.6" stroke="#111" stroke-width="0.8"/>
<line x1="136.59" y1="513.6" x2="136.59" y2="515.6" stroke="#111" stroke-width="0.8"/>
<line x1="140" y1="513.6" x2="140" y2="515.6" stroke="#111" stroke-width="0.8"/>
<line x1="142.79" y1="513.6" x2="142.79" y2="515.6" stroke="#111" stroke-width="0.8"/>
<line x1="145.15" y1="513.6" x2="145.15" y2="515.6" stroke="#111" stroke-width="0.8"/>
<line x1="147.19" y1="513.6" x2="147.19" y2="515.6" stroke="#111" stroke-width="0.8"/>
<line x1="148.99" y1="513.6" x2="148.99" y2="515.6" stroke="#111" stroke-width="0.8"/>
<line x1="161.2" y1="513.6" x2="161.2" y2="515.6" stroke="#111" stroke-width="0.8"/>
<line x1="167.39" y1="513.6" x2="167.39" y2="515.6" stroke="#111" stroke-width="0.8"/>
<line x1="171.79" y1="513.6" x2="171.79" y2="515.6" stroke="#111" stroke-width="0.8"/>
<line x1="175.2" y1="513.6" x2="175.2" y2="515.6" stroke="#111" stroke-width="0.8"/>
<line x1="177.99" y1="513.6" x2="177.99" y2="515.6" stroke="#111" stroke-width="0.8"/>
<line x1="180.35" y1="513.6" x2="180.35" y2="515.6" stroke="#111" stroke-width="0.8"/>
<line x1="182.39" y1="513.6" x2="182.39" y2="515.6" stroke="#111" stroke-width="0.8"/>
<line x1="184.19" y1="513.6" x2="184.19" y2="515.6" stroke="#111" stroke-width="0.8"/>
<line x1="196.4" y1="513.6" x2="196.4" y2="515.6" stroke="#111" stroke-width="0.8"/>
<line x1="202.59" y1="513.6" x2="202.59" y2="515.6" stroke="#111" stroke-width="0.8"/>
<line x1="206.99" y1="513.6" x2="206.99" y2="515.6" stroke="#111" stroke-width="0.8"/>
<line x1="210.4" y1="513.6" x2="210.4" y2="515.6" stroke="#111" stroke-width="0.8"/>
<line x1="213.19" y1="513.6" x2="213.19" y2="515.6" stroke="#111" stroke-width="0.8"/>
<line x1="215.55" y1="513.6" x2="215.55" y2="515.6" stroke="#111" stroke-width="0.8"/>
<line x1="217.59" y1="513.6" x2="217.59" y2="515.6" stroke="#111" stroke-width="0.8"/>
<line x1="219.39" y1="513.6" x2="219.39" y2="515.6" stroke="#111" stroke-width="0.8"/>
<line x1="231.6" y1="513.6" x2="231.6" y2="515.6" stroke="#111" stroke-width="0.8"/>
<line x1="237.79" y1="513.6" x2="237.79" y2="515.6" stroke="#111" stroke-width="0.8"/>
<line x1="242.19" y1="513.6" x2="242.19" y2="515.6" stroke="#111" stroke-width="0.8"/>
<line x1="245.6" y1="513.6" x2="245.6" y2="515.6" stroke="#111" stroke-width="0.8"/>
<line x1="248.39" y1="513.6" x2="248.39" y2="515.6" stroke="#111" stroke-width="0.8"/>
<line x1="250.75" y1="513.6" x2="250.75" y2="515.6" stroke="#111" stroke-width="0.8"/>
<line x1="252.79" y1="513.6" x2="252.79" y2="515.6" stroke="#111" stroke-width="0.8"/>
<line x1="254.59" y1="513.6" x2="254.59" y2="515.6" stroke="#111" stroke-width="0.8"/>
<line x1="266.8" y1="513.6" x2="266.8" y2="515.6" stroke="#111" stroke-width="0.8"/>
<line x1="272.99" y1="513.6" x2="272.99" y2="515.6" stroke="#111" stroke-width="0.8"/>
<line x1="277.39" y1="513.6" x2="277.39" y2="515.6" stroke="#111" stroke-width="0.8"/>
<polyline points="80.2,489.95 81.96,489.79 83.72,489.62 85.48,489.44 87.24,489.25 89,489.03 90.76,488.81 92.52,488.56 94.28,488.29 96.04,488 97.8,487.69 99.56,487.36 101.32,487 103.08,486.61 104.84,486.19 106.6,485.73 108.36,485.25 110.12,484.72 111.88,484.16 113.64,483.56 115.4,482.9 117.16,482.21 118.92,481.46 120.68,480.65 122.44,479.79 124.2,478.87 125.96,477.89 127.72,476.84 129.48,475.72 131.24,474.52 133,473.25 134.76,471.9 136.52,470.46 138.28,468.94 140.04,467.33 141.8,465.62 143.56,463.83 145.32,461.94 147.08,459.95 148.84,457.87 150.6,455.69 152.36,453.41 154.12,451.03 155.88,448.57 157.64,446.01 159.4,443.37 161.16,440.64 162.92,437.83 164.68,434.96 166.44,432.02 168.2,429.02 169.96,425.97 171.72,422.88 173.48,419.76 175.24,416.62 177,413.47 178.76,410.32 180.52,407.17 182.28,404.04 184.04,400.94 185.8,397.88 187.56,394.87 189.32,391.91 191.08,389.01 192.84,386.18 194.6,383.43 196.36,380.76 198.12,378.17 199.88,375.67 201.64,373.27 203.4,370.96 205.16,368.75 206.92,366.63 208.68,364.62 210.44,362.7 212.2,360.87 213.96,359.14 215.72,357.5 217.48,355.95 219.24,354.48 221,353.11 222.76,351.81 224.52,350.59 226.28,349.44 228.04,348.37 229.8,347.36 231.56,346.42 233.32,345.54 235.08,344.72 236.84,343.96 238.6,343.24 240.36,342.58 242.12,341.96 243.88,341.38 245.64,340.84 247.4,340.35 249.16,339.88 250.92,339.45 252.68,339.05 254.44,338.68 256.2,338.34" fill="none" stroke="#111" stroke-width="1.3"/>
<line x1="57.5" y1="491.83" x2="76.2" y2="491.83" stroke="#111" stroke-width="1.2"/>
<rect x="55.8" y="496.6" width="3.6" height="3.6" fill="#000"/>
<line x1="115.4" y1="468.58" x2="115.4" y2="483.64" stroke="#888" stroke-width="0.7"/>
<line x1="113.8" y1="468.58" x2="117" y2="468.58" stroke="#888" stroke-width="0.7"/>
<line x1="113.8" y1="483.64" x2="117" y2="483.64" stroke="#888" stroke-width="0.7"/>
<rect x="113.6" y="474.31" width="3.6" height="3.6" fill="#000"/>
<line x1="140" y1="467.83" x2="140" y2="472.35" stroke="#888" stroke-width="0.7"/>
<line x1="138.4" y1="467.83" x2="141.6" y2="467.83" stroke="#888" stroke-width="0.7"/>
<line x1="138.4" y1="472.35" x2="141.6" y2="472.35" stroke="#888" stroke-width="0.7"/>
<rect x="138.2" y="468.29" width="3.6" height="3.6" fill="#000"/>
<line x1="150.6" y1="438.31" x2="150.6" y2="447.35" stroke="#888" stroke-width="0.7"/>
<line x1="149" y1="438.31" x2="152.2" y2="438.31" stroke="#888" stroke-width="0.7"/>
<line x1="149" y1="447.35" x2="152.2" y2="447.35" stroke="#888" stroke-width="0.7"/>
<rect x="148.8" y="441.03" width="3.6" height="3.6" fill="#000"/>
<line x1="175.2" y1="422.05" x2="175.2" y2="436.8" stroke="#888" stroke-width="0.7"/>
<line x1="173.6" y1="422.05" x2="176.8" y2="422.05" stroke="#888" stroke-width="0.7"/>
<line x1="173.6" y1="436.8" x2="176.8" y2="436.8" stroke="#888" stroke-width="0.7"/>
<rect x="173.4" y="427.63" width="3.6" height="3.6" fill="#000"/>
<line x1="185.8" y1="400.66" x2="185.8" y2="409.7" stroke="#888" stroke-width="0.7"/>
<line x1="184.2" y1="400.66" x2="187.4" y2="400.66" stroke="#888" stroke-width="0.7"/>
<line x1="184.2" y1="409.7" x2="187.4" y2="409.7" stroke="#888" stroke-width="0.7"/>
<rect x="184" y="403.38" width="3.6" height="3.6" fill="#000"/>
<line x1="210.4" y1="347.05" x2="210.4" y2="356.08" stroke="#888" stroke-width="0.7"/>
<line x1="208.8" y1="347.05" x2="212" y2="347.05" stroke="#888" stroke-width="0.7"/>
<line x1="208.8" y1="356.08" x2="212" y2="356.08" stroke="#888" stroke-width="0.7"/>
<rect x="208.6" y="349.76" width="3.6" height="3.6" fill="#000"/>
<rect x="219.2" y="346.15" width="3.6" height="3.6" fill="#000"/>
<rect x="254.4" y="346.15" width="3.6" height="3.6" fill="#000"/>
<text x="168.7" y="547.3" text-anchor="middle" font-size="15.8">[POX] (nM)</text>
<text transform="translate(28.5,423) rotate(-90)" text-anchor="middle" font-size="17.5" font-weight="bold">I%</text>
<rect x="446" y="391.88" width="44.6" height="118.92" fill="url(#hd)" stroke="#222" stroke-width="1"/>
<line x1="468.3" y1="380.62" x2="468.3" y2="402.14" stroke="#111" stroke-width="1"/>
<line x1="466.1" y1="380.62" x2="470.5" y2="380.62" stroke="#111" stroke-width="1"/>
<line x1="466.1" y1="402.14" x2="470.5" y2="402.14" stroke="#111" stroke-width="1"/>
<rect x="502.1" y="359.6" width="44.1" height="151.2" fill="url(#hd)" stroke="#222" stroke-width="1"/>
<line x1="524.15" y1="353.72" x2="524.15" y2="364.48" stroke="#111" stroke-width="1"/>
<line x1="521.95" y1="353.72" x2="526.35" y2="353.72" stroke="#111" stroke-width="1"/>
<line x1="521.95" y1="364.48" x2="526.35" y2="364.48" stroke="#111" stroke-width="1"/>
<rect x="558" y="359.6" width="44.1" height="151.2" fill="url(#hd)" stroke="#222" stroke-width="1"/>
<line x1="580.05" y1="353.72" x2="580.05" y2="364.48" stroke="#111" stroke-width="1"/>
<line x1="577.85" y1="353.72" x2="582.25" y2="353.72" stroke="#111" stroke-width="1"/>
<line x1="577.85" y1="364.48" x2="582.25" y2="364.48" stroke="#111" stroke-width="1"/>
<rect x="613.6" y="386.5" width="43.9" height="124.3" fill="url(#hd)" stroke="#222" stroke-width="1"/>
<line x1="635.55" y1="375.24" x2="635.55" y2="396.76" stroke="#111" stroke-width="1"/>
<line x1="633.35" y1="375.24" x2="637.75" y2="375.24" stroke="#111" stroke-width="1"/>
<line x1="633.35" y1="396.76" x2="637.75" y2="396.76" stroke="#111" stroke-width="1"/>
<rect x="442.0" y="474.1" width="225" height="3.4" fill="#fff"/>
<line x1="441.2" y1="332" x2="441.2" y2="474.3" stroke="#111" stroke-width="1.3"/>
<line x1="441.2" y1="477.3" x2="441.2" y2="511.40000000000003" stroke="#111" stroke-width="1.3"/>
<line x1="439.0" y1="510.8" x2="663.3" y2="510.8" stroke="#111" stroke-width="1.3"/>
<line x1="438.7" y1="475.6" x2="443.7" y2="473.4" stroke="#111" stroke-width="0.9"/>
<line x1="438.7" y1="478.6" x2="443.7" y2="476.4" stroke="#111" stroke-width="0.9"/>
<line x1="438" y1="466.7" x2="441.2" y2="466.7" stroke="#111" stroke-width="1"/>
<line x1="439.2" y1="412.9" x2="441.2" y2="412.9" stroke="#111" stroke-width="1"/>
<line x1="438" y1="359.1" x2="441.2" y2="359.1" stroke="#111" stroke-width="1"/>
<text x="434.7" y="470.6" text-anchor="end" font-size="11" font-weight="bold">80</text>
<text x="434.7" y="363" text-anchor="end" font-size="11" font-weight="bold">100</text>
<line x1="438" y1="510.8" x2="441.2" y2="510.8" stroke="#111" stroke-width="1"/>
<line x1="439.2" y1="499" x2="441.2" y2="499" stroke="#111" stroke-width="1"/>
<line x1="439.2" y1="485" x2="441.2" y2="485" stroke="#111" stroke-width="1"/>
<text x="435.2" y="514.7" text-anchor="end" font-size="11" font-weight="bold">0</text>
<line x1="468.3" y1="510.8" x2="468.3" y2="513.8" stroke="#111" stroke-width="1"/>
<text x="468.3" y="526.5" text-anchor="middle" font-size="11" font-weight="bold">0</text>
<line x1="524.2" y1="510.8" x2="524.2" y2="513.8" stroke="#111" stroke-width="1"/>
<text x="524.2" y="526.5" text-anchor="middle" font-size="11" font-weight="bold">1</text>
<line x1="580.1" y1="510.8" x2="580.1" y2="513.8" stroke="#111" stroke-width="1"/>
<text x="580.1" y="526.5" text-anchor="middle" font-size="11" font-weight="bold">3</text>
<line x1="635.6" y1="510.8" x2="635.6" y2="513.8" stroke="#111" stroke-width="1"/>
<text x="635.6" y="526.5" text-anchor="middle" font-size="11" font-weight="bold">4</text>
<line x1="496.3" y1="510.8" x2="496.3" y2="512.8" stroke="#111" stroke-width="1"/>
<line x1="552.1" y1="510.8" x2="552.1" y2="512.8" stroke="#111" stroke-width="1"/>
<line x1="607.9" y1="510.8" x2="607.9" y2="512.8" stroke="#111" stroke-width="1"/>
<text x="552.5" y="549.6" text-anchor="middle" font-size="16.6">Time (months)</text>
<text transform="translate(419,417.3) rotate(-90)" text-anchor="middle" font-size="17" font-weight="bold">I%</text>
<text x="31.2" y="21.3" font-size="20" font-weight="bold" stroke="#000" stroke-width="1.1">a</text>
<text x="397" y="21.8" font-size="20" font-weight="bold" stroke="#000" stroke-width="1.1">b</text>
<text x="30.7" y="328.2" font-size="20" font-weight="bold" stroke="#000" stroke-width="1.1">c</text>
<text x="396.8" y="328.8" font-size="20" font-weight="bold" stroke="#000" stroke-width="1.1">d</text>
</svg></body></html>
